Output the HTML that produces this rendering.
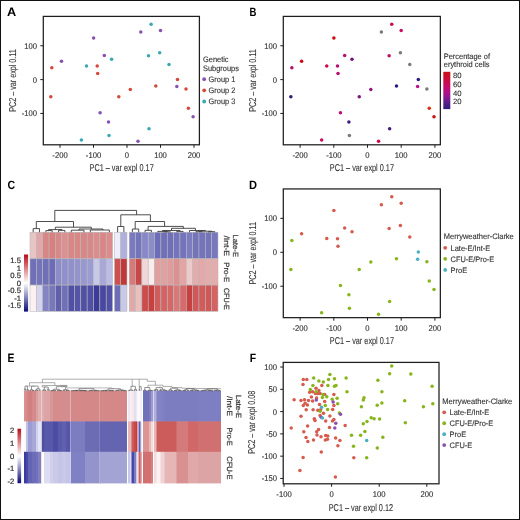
<!DOCTYPE html><html><head><meta charset="utf-8"><style>html,body{margin:0;padding:0;background:#fff;}body{width:520px;height:520px;position:relative;overflow:hidden;font-family:"Liberation Sans", sans-serif;}.frame{position:absolute;left:0;top:0;width:518px;height:518px;border:1px solid #111;}</style></head><body><svg width="520" height="520" viewBox="0 0 520 520" text-rendering="geometricPrecision" style="position:absolute;left:0;top:0;will-change:transform;font-family:&quot;Liberation Sans&quot;, sans-serif">
<defs>
<linearGradient id="gB" x1="0" y1="0" x2="0" y2="1"><stop offset="0" stop-color="#cc1010"/><stop offset="0.2" stop-color="#cc0c3c"/><stop offset="0.4" stop-color="#c40c6c"/><stop offset="0.55" stop-color="#b0108a"/><stop offset="0.7" stop-color="#861a8e"/><stop offset="0.85" stop-color="#502088"/><stop offset="1" stop-color="#2a2080"/></linearGradient>
<linearGradient id="gC" x1="0" y1="0" x2="0" y2="1"><stop offset="0" stop-color="#b80c18"/><stop offset="0.5" stop-color="#ffffff"/><stop offset="1" stop-color="#0a0a78"/></linearGradient>
</defs>
<rect x="0" y="0" width="520" height="520" fill="#fff"/>
<text font-size="12.2" fill="#000" text-anchor="start" font-weight="bold" textLength="9.20" lengthAdjust="spacingAndGlyphs" transform="translate(7.00 15.90)" >A</text>
<text font-size="12" fill="#000" text-anchor="start" font-weight="bold" textLength="6.90" lengthAdjust="spacingAndGlyphs" transform="translate(249.50 15.90)" >B</text>
<text font-size="12" fill="#000" text-anchor="start" font-weight="bold" textLength="7.60" lengthAdjust="spacingAndGlyphs" transform="translate(7.60 189.30)" >C</text>
<text font-size="12" fill="#000" text-anchor="start" font-weight="bold" textLength="8.00" lengthAdjust="spacingAndGlyphs" transform="translate(249.00 189.00)" >D</text>
<text font-size="12.2" fill="#000" text-anchor="start" font-weight="bold" textLength="6.90" lengthAdjust="spacingAndGlyphs" transform="translate(7.40 362.00)" >E</text>
<text font-size="12" fill="#000" text-anchor="start" font-weight="bold" textLength="6.40" lengthAdjust="spacingAndGlyphs" transform="translate(249.70 362.10)" >F</text>
<rect x="43.30" y="16.40" width="156.10" height="128.40" fill="none" stroke="#1e1e1e" stroke-width="1.25"/>
<line x1="60.00" y1="144.80" x2="60.00" y2="147.80" stroke="#1e1e1e" stroke-width="1.0"/>
<text font-size="8.3" fill="#333" text-anchor="middle" stroke="#333" stroke-width="0.15" transform="translate(60.00 158.10) scale(0.92 1)" >-200</text>
<line x1="93.50" y1="144.80" x2="93.50" y2="147.80" stroke="#1e1e1e" stroke-width="1.0"/>
<text font-size="8.3" fill="#333" text-anchor="middle" stroke="#333" stroke-width="0.15" transform="translate(93.50 158.10) scale(0.92 1)" >-100</text>
<line x1="127.00" y1="144.80" x2="127.00" y2="147.80" stroke="#1e1e1e" stroke-width="1.0"/>
<text font-size="8.3" fill="#333" text-anchor="middle" stroke="#333" stroke-width="0.15" transform="translate(127.00 158.10) scale(0.92 1)" >0</text>
<line x1="160.50" y1="144.80" x2="160.50" y2="147.80" stroke="#1e1e1e" stroke-width="1.0"/>
<text font-size="8.3" fill="#333" text-anchor="middle" stroke="#333" stroke-width="0.15" transform="translate(160.50 158.10) scale(0.92 1)" >100</text>
<line x1="194.00" y1="144.80" x2="194.00" y2="147.80" stroke="#1e1e1e" stroke-width="1.0"/>
<text font-size="8.3" fill="#333" text-anchor="middle" stroke="#333" stroke-width="0.15" transform="translate(194.00 158.10) scale(0.92 1)" >200</text>
<line x1="40.30" y1="45.75" x2="43.30" y2="45.75" stroke="#1e1e1e" stroke-width="1.0"/>
<text font-size="8.3" fill="#333" text-anchor="end" stroke="#333" stroke-width="0.15" transform="translate(37.00 48.65) scale(0.92 1)" >100</text>
<line x1="40.30" y1="79.60" x2="43.30" y2="79.60" stroke="#1e1e1e" stroke-width="1.0"/>
<text font-size="8.3" fill="#333" text-anchor="end" stroke="#333" stroke-width="0.15" transform="translate(37.00 82.50) scale(0.92 1)" >0</text>
<line x1="40.30" y1="113.45" x2="43.30" y2="113.45" stroke="#1e1e1e" stroke-width="1.0"/>
<text font-size="8.3" fill="#333" text-anchor="end" stroke="#333" stroke-width="0.15" transform="translate(37.00 116.35) scale(0.92 1)" >-100</text>
<circle cx="93.60" cy="37.90" r="1.75" fill="#8850b0"/>
<circle cx="104.30" cy="55.40" r="1.75" fill="#8850b0"/>
<circle cx="111.60" cy="59.20" r="1.75" fill="#3aa8b0"/>
<circle cx="61.50" cy="61.20" r="1.75" fill="#8850b0"/>
<circle cx="51.80" cy="67.80" r="1.75" fill="#d4483c"/>
<circle cx="86.50" cy="65.90" r="1.75" fill="#3aa8b0"/>
<circle cx="97.20" cy="66.00" r="1.75" fill="#d4483c"/>
<circle cx="97.70" cy="73.60" r="1.75" fill="#d4483c"/>
<circle cx="151.10" cy="24.20" r="1.75" fill="#3aa8b0"/>
<circle cx="140.80" cy="32.10" r="1.75" fill="#8850b0"/>
<circle cx="160.50" cy="30.60" r="1.75" fill="#8850b0"/>
<circle cx="159.70" cy="52.80" r="1.75" fill="#3aa8b0"/>
<circle cx="148.50" cy="55.80" r="1.75" fill="#3aa8b0"/>
<circle cx="169.00" cy="64.40" r="1.75" fill="#3aa8b0"/>
<circle cx="50.80" cy="96.70" r="1.75" fill="#d4483c"/>
<circle cx="118.80" cy="96.70" r="1.75" fill="#d4483c"/>
<circle cx="100.10" cy="112.70" r="1.75" fill="#8850b0"/>
<circle cx="108.50" cy="121.90" r="1.75" fill="#8850b0"/>
<circle cx="109.00" cy="135.50" r="1.75" fill="#3aa8b0"/>
<circle cx="81.40" cy="140.00" r="1.75" fill="#3aa8b0"/>
<circle cx="130.30" cy="89.40" r="1.75" fill="#d4483c"/>
<circle cx="155.80" cy="86.00" r="1.75" fill="#d4483c"/>
<circle cx="177.50" cy="79.40" r="1.75" fill="#d4483c"/>
<circle cx="176.80" cy="86.50" r="1.75" fill="#8850b0"/>
<circle cx="186.00" cy="89.10" r="1.75" fill="#d4483c"/>
<circle cx="188.40" cy="108.30" r="1.75" fill="#d4483c"/>
<circle cx="193.10" cy="116.70" r="1.75" fill="#8850b0"/>
<circle cx="149.00" cy="128.70" r="1.75" fill="#3aa8b0"/>
<circle cx="138.00" cy="141.30" r="1.75" fill="#8850b0"/>
<text font-size="9.9" fill="#333" text-anchor="start" textLength="64.20" lengthAdjust="spacingAndGlyphs" stroke="#333" stroke-width="0.1" transform="translate(89.50 170.90)" >PC1 – var expl 0.17</text>
<text font-size="9.9" fill="#333" text-anchor="start" textLength="62.60" lengthAdjust="spacingAndGlyphs" stroke="#333" stroke-width="0.1" transform="translate(16.30 111.80) rotate(-90)" >PC2 – var expl 0.11</text>
<text font-size="7.9" fill="#333" text-anchor="start" stroke="#333" stroke-width="0.12" transform="translate(203.00 61.80) scale(0.94 1)" >Genetic</text>
<text font-size="7.9" fill="#333" text-anchor="start" stroke="#333" stroke-width="0.12" transform="translate(203.00 70.90) scale(0.94 1)" >Subgroups</text>
<circle cx="204.20" cy="79.20" r="1.9" fill="#8850b0"/>
<text font-size="7.9" fill="#333" text-anchor="start" stroke="#333" stroke-width="0.12" transform="translate(208.60 82.00) scale(0.94 1)" >Group 1</text>
<circle cx="204.20" cy="90.35" r="1.9" fill="#d4483c"/>
<text font-size="7.9" fill="#333" text-anchor="start" stroke="#333" stroke-width="0.12" transform="translate(208.60 93.15) scale(0.94 1)" >Group 2</text>
<circle cx="204.20" cy="101.50" r="1.9" fill="#3aa8b0"/>
<text font-size="7.9" fill="#333" text-anchor="start" stroke="#333" stroke-width="0.12" transform="translate(208.60 104.30) scale(0.94 1)" >Group 3</text>
<rect x="283.30" y="16.40" width="157.04" height="128.40" fill="none" stroke="#1e1e1e" stroke-width="1.25"/>
<line x1="300.10" y1="144.80" x2="300.10" y2="147.80" stroke="#1e1e1e" stroke-width="1.0"/>
<text font-size="8.3" fill="#333" text-anchor="middle" stroke="#333" stroke-width="0.15" transform="translate(300.10 158.10) scale(0.92 1)" >-200</text>
<line x1="333.80" y1="144.80" x2="333.80" y2="147.80" stroke="#1e1e1e" stroke-width="1.0"/>
<text font-size="8.3" fill="#333" text-anchor="middle" stroke="#333" stroke-width="0.15" transform="translate(333.80 158.10) scale(0.92 1)" >-100</text>
<line x1="367.50" y1="144.80" x2="367.50" y2="147.80" stroke="#1e1e1e" stroke-width="1.0"/>
<text font-size="8.3" fill="#333" text-anchor="middle" stroke="#333" stroke-width="0.15" transform="translate(367.50 158.10) scale(0.92 1)" >0</text>
<line x1="401.20" y1="144.80" x2="401.20" y2="147.80" stroke="#1e1e1e" stroke-width="1.0"/>
<text font-size="8.3" fill="#333" text-anchor="middle" stroke="#333" stroke-width="0.15" transform="translate(401.20 158.10) scale(0.92 1)" >100</text>
<line x1="434.91" y1="144.80" x2="434.91" y2="147.80" stroke="#1e1e1e" stroke-width="1.0"/>
<text font-size="8.3" fill="#333" text-anchor="middle" stroke="#333" stroke-width="0.15" transform="translate(434.91 158.10) scale(0.92 1)" >200</text>
<line x1="280.30" y1="45.75" x2="283.30" y2="45.75" stroke="#1e1e1e" stroke-width="1.0"/>
<text font-size="8.3" fill="#333" text-anchor="end" stroke="#333" stroke-width="0.15" transform="translate(277.00 48.65) scale(0.92 1)" >100</text>
<line x1="280.30" y1="79.60" x2="283.30" y2="79.60" stroke="#1e1e1e" stroke-width="1.0"/>
<text font-size="8.3" fill="#333" text-anchor="end" stroke="#333" stroke-width="0.15" transform="translate(277.00 82.50) scale(0.92 1)" >0</text>
<line x1="280.30" y1="113.45" x2="283.30" y2="113.45" stroke="#1e1e1e" stroke-width="1.0"/>
<text font-size="8.3" fill="#333" text-anchor="end" stroke="#333" stroke-width="0.15" transform="translate(277.00 116.35) scale(0.92 1)" >-100</text>
<circle cx="333.90" cy="37.90" r="1.75" fill="#cc0a12"/>
<circle cx="344.67" cy="55.40" r="1.75" fill="#b81070"/>
<circle cx="352.01" cy="59.20" r="1.75" fill="#6a1478"/>
<circle cx="301.61" cy="61.20" r="1.75" fill="#cc0a14"/>
<circle cx="291.85" cy="67.80" r="1.75" fill="#b0106e"/>
<circle cx="326.76" cy="65.90" r="1.75" fill="#cc0a48"/>
<circle cx="337.53" cy="66.00" r="1.75" fill="#b80e70"/>
<circle cx="338.03" cy="73.60" r="1.75" fill="#b40e72"/>
<circle cx="391.75" cy="24.20" r="1.75" fill="#cc0a50"/>
<circle cx="381.39" cy="32.10" r="1.75" fill="#7a7a7a"/>
<circle cx="401.20" cy="30.60" r="1.75" fill="#c80c60"/>
<circle cx="400.40" cy="52.80" r="1.75" fill="#7a7a7a"/>
<circle cx="389.13" cy="55.80" r="1.75" fill="#c00c64"/>
<circle cx="409.76" cy="64.40" r="1.75" fill="#7a7a7a"/>
<circle cx="290.85" cy="96.70" r="1.75" fill="#2a1a7c"/>
<circle cx="359.25" cy="96.70" r="1.75" fill="#7a1480"/>
<circle cx="340.44" cy="112.70" r="1.75" fill="#c00c78"/>
<circle cx="348.89" cy="121.90" r="1.75" fill="#3a1a7c"/>
<circle cx="349.40" cy="135.50" r="1.75" fill="#7a7a7a"/>
<circle cx="321.63" cy="140.00" r="1.75" fill="#c80c5a"/>
<circle cx="370.82" cy="89.40" r="1.75" fill="#901488"/>
<circle cx="396.48" cy="86.00" r="1.75" fill="#2a1a7c"/>
<circle cx="418.31" cy="79.40" r="1.75" fill="#2a1a80"/>
<circle cx="417.60" cy="86.50" r="1.75" fill="#c0108a"/>
<circle cx="426.86" cy="89.10" r="1.75" fill="#7a7a7a"/>
<circle cx="429.27" cy="108.30" r="1.75" fill="#d83010"/>
<circle cx="434.00" cy="116.70" r="1.75" fill="#cc1010"/>
<circle cx="389.64" cy="128.70" r="1.75" fill="#4a1a80"/>
<circle cx="378.57" cy="141.30" r="1.75" fill="#cc0a50"/>
<text font-size="9.9" fill="#333" text-anchor="start" textLength="64.20" lengthAdjust="spacingAndGlyphs" stroke="#333" stroke-width="0.1" transform="translate(329.78 170.90)" >PC1 – var expl 0.17</text>
<text font-size="9.9" fill="#333" text-anchor="start" textLength="62.60" lengthAdjust="spacingAndGlyphs" stroke="#333" stroke-width="0.1" transform="translate(256.30 111.80) rotate(-90)" >PC2 – var expl 0.11</text>
<text font-size="7.9" fill="#333" text-anchor="start" stroke="#333" stroke-width="0.12" transform="translate(443.80 58.60) scale(0.94 1)" >Percentage of</text>
<text font-size="7.9" fill="#333" text-anchor="start" stroke="#333" stroke-width="0.12" transform="translate(443.80 67.40) scale(0.94 1)" >erythroid cells</text>
<rect x="443.3" y="71.8" width="7" height="37.3" fill="url(#gB)"/>
<text font-size="7.7" fill="#333" text-anchor="start" stroke="#333" stroke-width="0.12" transform="translate(452.90 78.30)" >80</text>
<text font-size="7.7" fill="#333" text-anchor="start" stroke="#333" stroke-width="0.12" transform="translate(452.90 86.92)" >60</text>
<text font-size="7.7" fill="#333" text-anchor="start" stroke="#333" stroke-width="0.12" transform="translate(452.90 95.54)" >40</text>
<text font-size="7.7" fill="#333" text-anchor="start" stroke="#333" stroke-width="0.12" transform="translate(452.90 104.16)" >20</text>
<rect x="283.30" y="188.94" width="157.04" height="128.72" fill="none" stroke="#1e1e1e" stroke-width="1.25"/>
<line x1="300.10" y1="317.66" x2="300.10" y2="320.66" stroke="#1e1e1e" stroke-width="1.0"/>
<text font-size="8.3" fill="#333" text-anchor="middle" stroke="#333" stroke-width="0.15" transform="translate(300.10 331.00) scale(0.92 1)" >-200</text>
<line x1="333.80" y1="317.66" x2="333.80" y2="320.66" stroke="#1e1e1e" stroke-width="1.0"/>
<text font-size="8.3" fill="#333" text-anchor="middle" stroke="#333" stroke-width="0.15" transform="translate(333.80 331.00) scale(0.92 1)" >-100</text>
<line x1="367.50" y1="317.66" x2="367.50" y2="320.66" stroke="#1e1e1e" stroke-width="1.0"/>
<text font-size="8.3" fill="#333" text-anchor="middle" stroke="#333" stroke-width="0.15" transform="translate(367.50 331.00) scale(0.92 1)" >0</text>
<line x1="401.20" y1="317.66" x2="401.20" y2="320.66" stroke="#1e1e1e" stroke-width="1.0"/>
<text font-size="8.3" fill="#333" text-anchor="middle" stroke="#333" stroke-width="0.15" transform="translate(401.20 331.00) scale(0.92 1)" >100</text>
<line x1="434.91" y1="317.66" x2="434.91" y2="320.66" stroke="#1e1e1e" stroke-width="1.0"/>
<text font-size="8.3" fill="#333" text-anchor="middle" stroke="#333" stroke-width="0.15" transform="translate(434.91 331.00) scale(0.92 1)" >200</text>
<line x1="280.30" y1="218.36" x2="283.30" y2="218.36" stroke="#1e1e1e" stroke-width="1.0"/>
<text font-size="8.3" fill="#333" text-anchor="end" stroke="#333" stroke-width="0.15" transform="translate(277.00 221.26) scale(0.92 1)" >100</text>
<line x1="280.30" y1="252.30" x2="283.30" y2="252.30" stroke="#1e1e1e" stroke-width="1.0"/>
<text font-size="8.3" fill="#333" text-anchor="end" stroke="#333" stroke-width="0.15" transform="translate(277.00 255.20) scale(0.92 1)" >0</text>
<line x1="280.30" y1="286.23" x2="283.30" y2="286.23" stroke="#1e1e1e" stroke-width="1.0"/>
<text font-size="8.3" fill="#333" text-anchor="end" stroke="#333" stroke-width="0.15" transform="translate(277.00 289.13) scale(0.92 1)" >-100</text>
<circle cx="333.90" cy="210.49" r="1.75" fill="#d65a4e"/>
<circle cx="344.67" cy="228.04" r="1.75" fill="#d65a4e"/>
<circle cx="352.01" cy="231.85" r="1.75" fill="#d65a4e"/>
<circle cx="301.61" cy="233.85" r="1.75" fill="#d65a4e"/>
<circle cx="291.85" cy="240.47" r="1.75" fill="#88b41c"/>
<circle cx="326.76" cy="238.56" r="1.75" fill="#d65a4e"/>
<circle cx="337.53" cy="238.66" r="1.75" fill="#d65a4e"/>
<circle cx="338.03" cy="246.28" r="1.75" fill="#d65a4e"/>
<circle cx="391.75" cy="196.76" r="1.75" fill="#d65a4e"/>
<circle cx="381.39" cy="204.68" r="1.75" fill="#d65a4e"/>
<circle cx="401.20" cy="203.18" r="1.75" fill="#d65a4e"/>
<circle cx="400.40" cy="225.43" r="1.75" fill="#d65a4e"/>
<circle cx="389.13" cy="228.44" r="1.75" fill="#d65a4e"/>
<circle cx="409.76" cy="237.06" r="1.75" fill="#d65a4e"/>
<circle cx="290.85" cy="269.44" r="1.75" fill="#88b41c"/>
<circle cx="359.25" cy="269.44" r="1.75" fill="#88b41c"/>
<circle cx="340.44" cy="285.48" r="1.75" fill="#88b41c"/>
<circle cx="348.89" cy="294.70" r="1.75" fill="#88b41c"/>
<circle cx="349.40" cy="308.34" r="1.75" fill="#88b41c"/>
<circle cx="321.63" cy="312.85" r="1.75" fill="#88b41c"/>
<circle cx="370.82" cy="262.12" r="1.75" fill="#88b41c"/>
<circle cx="396.48" cy="258.71" r="1.75" fill="#88b41c"/>
<circle cx="418.31" cy="252.10" r="1.75" fill="#48b0c0"/>
<circle cx="417.60" cy="259.22" r="1.75" fill="#48b0c0"/>
<circle cx="426.86" cy="261.82" r="1.75" fill="#88b41c"/>
<circle cx="429.27" cy="281.07" r="1.75" fill="#88b41c"/>
<circle cx="434.00" cy="289.49" r="1.75" fill="#88b41c"/>
<circle cx="389.64" cy="301.52" r="1.75" fill="#88b41c"/>
<circle cx="378.57" cy="314.15" r="1.75" fill="#88b41c"/>
<text font-size="9.9" fill="#333" text-anchor="start" textLength="64.20" lengthAdjust="spacingAndGlyphs" stroke="#333" stroke-width="0.1" transform="translate(329.78 343.83)" >PC1 – var expl 0.17</text>
<text font-size="9.9" fill="#333" text-anchor="start" textLength="62.60" lengthAdjust="spacingAndGlyphs" stroke="#333" stroke-width="0.1" transform="translate(256.30 284.58) rotate(-90)" >PC2 – var expl 0.11</text>
<text font-size="7.9" fill="#333" text-anchor="start" textLength="70.00" lengthAdjust="spacingAndGlyphs" stroke="#333" stroke-width="0.12" transform="translate(443.80 238.80)" >Merryweather-Clarke</text>
<circle cx="445.20" cy="247.80" r="1.9" fill="#d65a4e"/>
<text font-size="7.9" fill="#333" text-anchor="start" stroke="#333" stroke-width="0.12" transform="translate(450.60 250.60) scale(0.94 1)" >Late-E/Int-E</text>
<circle cx="445.20" cy="258.85" r="1.9" fill="#88b41c"/>
<text font-size="7.9" fill="#333" text-anchor="start" stroke="#333" stroke-width="0.12" transform="translate(450.60 261.65) scale(0.94 1)" >CFU-E/Pro-E</text>
<circle cx="445.20" cy="269.90" r="1.9" fill="#48b0c0"/>
<text font-size="7.9" fill="#333" text-anchor="start" stroke="#333" stroke-width="0.12" transform="translate(450.60 272.70) scale(0.94 1)" >ProE</text>
<rect x="30.00" y="232.20" width="6.35" height="26.60" fill="#e8c4c4" stroke="#b8b8b8" stroke-width="0.55"/>
<rect x="30.00" y="258.80" width="6.35" height="26.30" fill="#7070b8" stroke="#b8b8b8" stroke-width="0.55"/>
<rect x="30.00" y="285.10" width="6.35" height="26.20" fill="#fcf0f0" stroke="#b8b8b8" stroke-width="0.55"/>
<rect x="36.35" y="232.20" width="6.35" height="26.60" fill="#e0a8a8" stroke="#b8b8b8" stroke-width="0.55"/>
<rect x="36.35" y="258.80" width="6.35" height="26.30" fill="#7474bc" stroke="#b8b8b8" stroke-width="0.55"/>
<rect x="36.35" y="285.10" width="6.35" height="26.20" fill="#d4d4ee" stroke="#b8b8b8" stroke-width="0.55"/>
<rect x="42.70" y="232.20" width="6.35" height="26.60" fill="#d88686" stroke="#b8b8b8" stroke-width="0.55"/>
<rect x="42.70" y="258.80" width="6.35" height="26.30" fill="#7070b8" stroke="#b8b8b8" stroke-width="0.55"/>
<rect x="42.70" y="285.10" width="6.35" height="26.20" fill="#8484c4" stroke="#b8b8b8" stroke-width="0.55"/>
<rect x="49.05" y="232.20" width="6.35" height="26.60" fill="#d88080" stroke="#b8b8b8" stroke-width="0.55"/>
<rect x="49.05" y="258.80" width="6.35" height="26.30" fill="#6c6cb8" stroke="#b8b8b8" stroke-width="0.55"/>
<rect x="49.05" y="285.10" width="6.35" height="26.20" fill="#7878bc" stroke="#b8b8b8" stroke-width="0.55"/>
<rect x="55.40" y="232.20" width="6.35" height="26.60" fill="#d88888" stroke="#b8b8b8" stroke-width="0.55"/>
<rect x="55.40" y="258.80" width="6.35" height="26.30" fill="#8c8cc8" stroke="#b8b8b8" stroke-width="0.55"/>
<rect x="55.40" y="285.10" width="6.35" height="26.20" fill="#6060ac" stroke="#b8b8b8" stroke-width="0.55"/>
<rect x="61.75" y="232.20" width="6.35" height="26.60" fill="#dc9090" stroke="#b8b8b8" stroke-width="0.55"/>
<rect x="61.75" y="258.80" width="6.35" height="26.30" fill="#9090cc" stroke="#b8b8b8" stroke-width="0.55"/>
<rect x="61.75" y="285.10" width="6.35" height="26.20" fill="#7070b8" stroke="#b8b8b8" stroke-width="0.55"/>
<rect x="68.10" y="232.20" width="6.35" height="26.60" fill="#d88686" stroke="#b8b8b8" stroke-width="0.55"/>
<rect x="68.10" y="258.80" width="6.35" height="26.30" fill="#9090cc" stroke="#b8b8b8" stroke-width="0.55"/>
<rect x="68.10" y="285.10" width="6.35" height="26.20" fill="#5050a4" stroke="#b8b8b8" stroke-width="0.55"/>
<rect x="74.45" y="232.20" width="6.35" height="26.60" fill="#d88686" stroke="#b8b8b8" stroke-width="0.55"/>
<rect x="74.45" y="258.80" width="6.35" height="26.30" fill="#9494cc" stroke="#b8b8b8" stroke-width="0.55"/>
<rect x="74.45" y="285.10" width="6.35" height="26.20" fill="#5454a8" stroke="#b8b8b8" stroke-width="0.55"/>
<rect x="80.80" y="232.20" width="6.35" height="26.60" fill="#d88686" stroke="#b8b8b8" stroke-width="0.55"/>
<rect x="80.80" y="258.80" width="6.35" height="26.30" fill="#9898d0" stroke="#b8b8b8" stroke-width="0.55"/>
<rect x="80.80" y="285.10" width="6.35" height="26.20" fill="#5050a4" stroke="#b8b8b8" stroke-width="0.55"/>
<rect x="87.15" y="232.20" width="6.35" height="26.60" fill="#d88888" stroke="#b8b8b8" stroke-width="0.55"/>
<rect x="87.15" y="258.80" width="6.35" height="26.30" fill="#9c9cd2" stroke="#b8b8b8" stroke-width="0.55"/>
<rect x="87.15" y="285.10" width="6.35" height="26.20" fill="#5050a4" stroke="#b8b8b8" stroke-width="0.55"/>
<rect x="93.50" y="232.20" width="6.35" height="26.60" fill="#dc8c8c" stroke="#b8b8b8" stroke-width="0.55"/>
<rect x="93.50" y="258.80" width="6.35" height="26.30" fill="#c8c8e8" stroke="#b8b8b8" stroke-width="0.55"/>
<rect x="93.50" y="285.10" width="6.35" height="26.20" fill="#3c3c98" stroke="#b8b8b8" stroke-width="0.55"/>
<rect x="99.85" y="232.20" width="6.35" height="26.60" fill="#d88686" stroke="#b8b8b8" stroke-width="0.55"/>
<rect x="99.85" y="258.80" width="6.35" height="26.30" fill="#a8a8d8" stroke="#b8b8b8" stroke-width="0.55"/>
<rect x="99.85" y="285.10" width="6.35" height="26.20" fill="#4848a0" stroke="#b8b8b8" stroke-width="0.55"/>
<rect x="106.20" y="232.20" width="6.35" height="26.60" fill="#dc8c8c" stroke="#b8b8b8" stroke-width="0.55"/>
<rect x="106.20" y="258.80" width="6.35" height="26.30" fill="#bcbce4" stroke="#b8b8b8" stroke-width="0.55"/>
<rect x="106.20" y="285.10" width="6.35" height="26.20" fill="#5050a4" stroke="#b8b8b8" stroke-width="0.55"/>
<rect x="114.50" y="232.20" width="6.25" height="26.60" fill="#eeeef8" stroke="#b8b8b8" stroke-width="0.55"/>
<rect x="114.50" y="258.80" width="6.25" height="26.30" fill="#cc5050" stroke="#b8b8b8" stroke-width="0.55"/>
<rect x="114.50" y="285.10" width="6.25" height="26.20" fill="#6c6cb8" stroke="#b8b8b8" stroke-width="0.55"/>
<rect x="120.75" y="232.20" width="6.25" height="26.60" fill="#b0b0dc" stroke="#b8b8b8" stroke-width="0.55"/>
<rect x="120.75" y="258.80" width="6.25" height="26.30" fill="#c03838" stroke="#b8b8b8" stroke-width="0.55"/>
<rect x="120.75" y="285.10" width="6.25" height="26.20" fill="#c8c8e8" stroke="#b8b8b8" stroke-width="0.55"/>
<rect x="129.20" y="232.20" width="6.34" height="26.60" fill="#7a7ac0" stroke="#b8b8b8" stroke-width="0.55"/>
<rect x="129.20" y="258.80" width="6.34" height="26.30" fill="#d87878" stroke="#b8b8b8" stroke-width="0.55"/>
<rect x="129.20" y="285.10" width="6.34" height="26.20" fill="#e0a8a8" stroke="#b8b8b8" stroke-width="0.55"/>
<rect x="135.54" y="232.20" width="6.34" height="26.60" fill="#7474bc" stroke="#b8b8b8" stroke-width="0.55"/>
<rect x="135.54" y="258.80" width="6.34" height="26.30" fill="#c84848" stroke="#b8b8b8" stroke-width="0.55"/>
<rect x="135.54" y="285.10" width="6.34" height="26.20" fill="#e8c0c0" stroke="#b8b8b8" stroke-width="0.55"/>
<rect x="141.89" y="232.20" width="6.34" height="26.60" fill="#8888c8" stroke="#b8b8b8" stroke-width="0.55"/>
<rect x="141.89" y="258.80" width="6.34" height="26.30" fill="#f0d8d8" stroke="#b8b8b8" stroke-width="0.55"/>
<rect x="141.89" y="285.10" width="6.34" height="26.20" fill="#cc4c4c" stroke="#b8b8b8" stroke-width="0.55"/>
<rect x="148.23" y="232.20" width="6.34" height="26.60" fill="#8c8cc8" stroke="#b8b8b8" stroke-width="0.55"/>
<rect x="148.23" y="258.80" width="6.34" height="26.30" fill="#f8ecec" stroke="#b8b8b8" stroke-width="0.55"/>
<rect x="148.23" y="285.10" width="6.34" height="26.20" fill="#c84040" stroke="#b8b8b8" stroke-width="0.55"/>
<rect x="154.57" y="232.20" width="6.34" height="26.60" fill="#6c6cb8" stroke="#b8b8b8" stroke-width="0.55"/>
<rect x="154.57" y="258.80" width="6.34" height="26.30" fill="#e0a0a0" stroke="#b8b8b8" stroke-width="0.55"/>
<rect x="154.57" y="285.10" width="6.34" height="26.20" fill="#d05c5c" stroke="#b8b8b8" stroke-width="0.55"/>
<rect x="160.91" y="232.20" width="6.34" height="26.60" fill="#7070ba" stroke="#b8b8b8" stroke-width="0.55"/>
<rect x="160.91" y="258.80" width="6.34" height="26.30" fill="#e0a0a0" stroke="#b8b8b8" stroke-width="0.55"/>
<rect x="160.91" y="285.10" width="6.34" height="26.20" fill="#d46464" stroke="#b8b8b8" stroke-width="0.55"/>
<rect x="167.26" y="232.20" width="6.34" height="26.60" fill="#7070ba" stroke="#b8b8b8" stroke-width="0.55"/>
<rect x="167.26" y="258.80" width="6.34" height="26.30" fill="#e09c9c" stroke="#b8b8b8" stroke-width="0.55"/>
<rect x="167.26" y="285.10" width="6.34" height="26.20" fill="#d46868" stroke="#b8b8b8" stroke-width="0.55"/>
<rect x="173.60" y="232.20" width="6.34" height="26.60" fill="#7474bc" stroke="#b8b8b8" stroke-width="0.55"/>
<rect x="173.60" y="258.80" width="6.34" height="26.30" fill="#dc9090" stroke="#b8b8b8" stroke-width="0.55"/>
<rect x="173.60" y="285.10" width="6.34" height="26.20" fill="#d87878" stroke="#b8b8b8" stroke-width="0.55"/>
<rect x="179.94" y="232.20" width="6.34" height="26.60" fill="#7474bc" stroke="#b8b8b8" stroke-width="0.55"/>
<rect x="179.94" y="258.80" width="6.34" height="26.30" fill="#e4a4a4" stroke="#b8b8b8" stroke-width="0.55"/>
<rect x="179.94" y="285.10" width="6.34" height="26.20" fill="#d46c6c" stroke="#b8b8b8" stroke-width="0.55"/>
<rect x="186.29" y="232.20" width="6.34" height="26.60" fill="#7c7cc0" stroke="#b8b8b8" stroke-width="0.55"/>
<rect x="186.29" y="258.80" width="6.34" height="26.30" fill="#eccaca" stroke="#b8b8b8" stroke-width="0.55"/>
<rect x="186.29" y="285.10" width="6.34" height="26.20" fill="#c84040" stroke="#b8b8b8" stroke-width="0.55"/>
<rect x="192.63" y="232.20" width="6.34" height="26.60" fill="#7474bc" stroke="#b8b8b8" stroke-width="0.55"/>
<rect x="192.63" y="258.80" width="6.34" height="26.30" fill="#e4acac" stroke="#b8b8b8" stroke-width="0.55"/>
<rect x="192.63" y="285.10" width="6.34" height="26.20" fill="#d05858" stroke="#b8b8b8" stroke-width="0.55"/>
<rect x="198.97" y="232.20" width="6.34" height="26.60" fill="#7474bc" stroke="#b8b8b8" stroke-width="0.55"/>
<rect x="198.97" y="258.80" width="6.34" height="26.30" fill="#e4a8a8" stroke="#b8b8b8" stroke-width="0.55"/>
<rect x="198.97" y="285.10" width="6.34" height="26.20" fill="#d05c5c" stroke="#b8b8b8" stroke-width="0.55"/>
<rect x="205.32" y="232.20" width="6.34" height="26.60" fill="#7474bc" stroke="#b8b8b8" stroke-width="0.55"/>
<rect x="205.32" y="258.80" width="6.34" height="26.30" fill="#e4acac" stroke="#b8b8b8" stroke-width="0.55"/>
<rect x="205.32" y="285.10" width="6.34" height="26.20" fill="#d05858" stroke="#b8b8b8" stroke-width="0.55"/>
<rect x="211.66" y="232.20" width="6.34" height="26.60" fill="#7878be" stroke="#b8b8b8" stroke-width="0.55"/>
<rect x="211.66" y="258.80" width="6.34" height="26.30" fill="#e4acac" stroke="#b8b8b8" stroke-width="0.55"/>
<rect x="211.66" y="285.10" width="6.34" height="26.20" fill="#d46464" stroke="#b8b8b8" stroke-width="0.55"/>
<path d="M54.80 221.50 L54.80 210.40 L136.60 210.40 L136.60 214.80" fill="none" stroke="#3a3a3a" stroke-width="0.9"/>
<path d="M36.30 228.60 L36.30 221.50 L73.50 221.50 L73.50 227.20" fill="none" stroke="#3a3a3a" stroke-width="0.9"/>
<path d="M33.17 232.20 L33.17 228.60 L39.52 228.60 L39.52 232.20" fill="none" stroke="#3a3a3a" stroke-width="0.9"/>
<path d="M55.30 229.60 L55.30 227.20 L91.30 227.20 L91.30 229.00" fill="none" stroke="#3a3a3a" stroke-width="0.9"/>
<path d="M48.50 230.60 L48.50 229.60 L62.00 229.60 L62.00 230.40" fill="none" stroke="#3a3a3a" stroke-width="0.9"/>
<path d="M45.88 232.20 L45.88 230.60 L52.22 230.60 L52.22 232.20" fill="none" stroke="#3a3a3a" stroke-width="0.9"/>
<path d="M58.57 232.20 L58.57 230.40 L64.92 230.40 L64.92 232.20" fill="none" stroke="#3a3a3a" stroke-width="0.9"/>
<path d="M79.00 230.20 L79.00 229.00 L103.00 229.00 L103.00 230.00" fill="none" stroke="#3a3a3a" stroke-width="0.9"/>
<path d="M71.27 232.20 L71.27 230.20 L83.97 230.20 L83.97 232.20" fill="none" stroke="#3a3a3a" stroke-width="0.9"/>
<path d="M90.33 232.20 L90.33 230.00 L109.37 230.00 L109.37 232.20" fill="none" stroke="#3a3a3a" stroke-width="0.9"/>
<path d="M120.80 226.50 L120.80 214.80 L150.40 214.80 L150.40 221.50" fill="none" stroke="#3a3a3a" stroke-width="0.9"/>
<path d="M117.62 232.20 L117.62 226.50 L123.88 226.50 L123.88 232.20" fill="none" stroke="#3a3a3a" stroke-width="0.9"/>
<path d="M135.20 229.00 L135.20 221.50 L164.60 221.50 L164.60 226.40" fill="none" stroke="#3a3a3a" stroke-width="0.9"/>
<path d="M132.37 232.20 L132.37 229.00 L138.71 229.00 L138.71 232.20" fill="none" stroke="#3a3a3a" stroke-width="0.9"/>
<path d="M148.10 230.30 L148.10 226.40 L183.30 226.40 L183.30 228.30" fill="none" stroke="#3a3a3a" stroke-width="0.9"/>
<path d="M145.06 232.20 L145.06 230.30 L151.40 230.30 L151.40 232.20" fill="none" stroke="#3a3a3a" stroke-width="0.9"/>
<path d="M171.50 230.50 L171.50 228.30 L195.40 228.30 L195.40 230.50" fill="none" stroke="#3a3a3a" stroke-width="0.9"/>
<path d="M162.50 231.40 L162.50 230.50 L180.00 230.50 L180.00 231.40" fill="none" stroke="#3a3a3a" stroke-width="0.9"/>
<path d="M157.74 232.20 L157.74 231.40 L167.30 231.40 L167.30 231.80" fill="none" stroke="#3a3a3a" stroke-width="0.9"/>
<path d="M164.09 232.20 L164.09 231.80 L170.43 231.80 L170.43 232.20" fill="none" stroke="#3a3a3a" stroke-width="0.9"/>
<path d="M176.77 232.20 L176.77 231.40 L183.12 231.40 L183.12 232.20" fill="none" stroke="#3a3a3a" stroke-width="0.9"/>
<path d="M189.46 232.20 L189.46 230.50 L205.40 230.50 L205.40 231.20" fill="none" stroke="#3a3a3a" stroke-width="0.9"/>
<path d="M199.00 231.70 L199.00 231.20 L211.80 231.20 L211.80 231.70" fill="none" stroke="#3a3a3a" stroke-width="0.9"/>
<path d="M195.80 232.20 L195.80 231.70 L202.14 231.70 L202.14 232.20" fill="none" stroke="#3a3a3a" stroke-width="0.9"/>
<path d="M208.49 232.20 L208.49 231.70 L214.83 231.70 L214.83 232.20" fill="none" stroke="#3a3a3a" stroke-width="0.9"/>
<rect x="24.0" y="254.5" width="4.1" height="57.1" fill="url(#gC)"/>
<text font-size="7.7" fill="#333" text-anchor="end" stroke="#333" stroke-width="0.22" transform="translate(21.00 263.05)" >1.5</text>
<text font-size="7.7" fill="#333" text-anchor="end" stroke="#333" stroke-width="0.22" transform="translate(21.00 270.60)" >1</text>
<text font-size="7.7" fill="#333" text-anchor="end" stroke="#333" stroke-width="0.22" transform="translate(21.00 278.15)" >0.5</text>
<text font-size="7.7" fill="#333" text-anchor="end" stroke="#333" stroke-width="0.22" transform="translate(21.00 285.70)" >0</text>
<text font-size="7.7" fill="#333" text-anchor="end" stroke="#333" stroke-width="0.22" transform="translate(21.00 293.25)" >-0.5</text>
<text font-size="7.7" fill="#333" text-anchor="end" stroke="#333" stroke-width="0.22" transform="translate(21.00 300.80)" >-1</text>
<text font-size="7.7" fill="#333" text-anchor="end" stroke="#333" stroke-width="0.22" transform="translate(21.00 308.35)" >-1.5</text>
<text font-size="7.6" fill="#333" text-anchor="start" textLength="22.50" lengthAdjust="spacingAndGlyphs" stroke="#333" stroke-width="0.2" transform="translate(233.00 234.50) rotate(90)" >Late-E</text>
<text font-size="7.6" fill="#333" text-anchor="start" textLength="20.70" lengthAdjust="spacingAndGlyphs" stroke="#333" stroke-width="0.2" transform="translate(224.40 235.40) rotate(90)" >/Int-E</text>
<text font-size="7.6" fill="#333" text-anchor="start" textLength="19.90" lengthAdjust="spacingAndGlyphs" stroke="#333" stroke-width="0.2" transform="translate(224.40 262.20) rotate(90)" >Pro-E</text>
<text font-size="7.6" fill="#333" text-anchor="start" textLength="21.70" lengthAdjust="spacingAndGlyphs" stroke="#333" stroke-width="0.2" transform="translate(224.40 288.10) rotate(90)" >CFU-E</text>
<rect x="24.00" y="390.70" width="2.60" height="31.20" fill="#d89090"/>
<rect x="24.00" y="421.40" width="2.60" height="30.90" fill="#fdf8f8"/>
<rect x="24.00" y="451.80" width="2.60" height="31.60" fill="#3c3ca0"/>
<rect x="26.00" y="390.70" width="2.60" height="31.20" fill="#d48888"/>
<rect x="26.00" y="421.40" width="2.60" height="30.90" fill="#c0c0e4"/>
<rect x="26.00" y="451.80" width="2.60" height="31.60" fill="#4848a8"/>
<rect x="28.00" y="390.70" width="4.60" height="31.20" fill="#d08080"/>
<rect x="28.00" y="421.40" width="4.60" height="30.90" fill="#9c9cd4"/>
<rect x="28.00" y="451.80" width="4.60" height="31.60" fill="#6464b4"/>
<rect x="32.00" y="390.70" width="4.60" height="31.20" fill="#d48a8a"/>
<rect x="32.00" y="421.40" width="4.60" height="30.90" fill="#a8a8d8"/>
<rect x="32.00" y="451.80" width="4.60" height="31.60" fill="#6c6cb8"/>
<rect x="36.00" y="390.70" width="2.60" height="31.20" fill="#dca0a0"/>
<rect x="36.00" y="421.40" width="2.60" height="30.90" fill="#d0d0ec"/>
<rect x="36.00" y="451.80" width="2.60" height="31.60" fill="#7070bc"/>
<rect x="38.00" y="390.70" width="3.60" height="31.20" fill="#e0b0b0"/>
<rect x="38.00" y="421.40" width="3.60" height="30.90" fill="#e4e4f4"/>
<rect x="38.00" y="451.80" width="3.60" height="31.60" fill="#8080c0"/>
<rect x="41.00" y="390.70" width="1.50" height="31.20" fill="#ecd0d0"/>
<rect x="41.00" y="421.40" width="1.50" height="30.90" fill="#dcdcf0"/>
<rect x="41.00" y="451.80" width="1.50" height="31.60" fill="#f4dcdc"/>
<rect x="41.90" y="390.70" width="2.70" height="31.20" fill="#e0acac"/>
<rect x="41.90" y="421.40" width="2.70" height="30.90" fill="#4e4ea4"/>
<rect x="41.90" y="451.80" width="2.70" height="31.60" fill="#ffffff"/>
<rect x="44.00" y="390.70" width="6.60" height="31.20" fill="#dca4a4"/>
<rect x="44.00" y="421.40" width="6.60" height="30.90" fill="#5858aa"/>
<rect x="44.00" y="451.80" width="6.60" height="31.60" fill="#dcdcf2"/>
<rect x="50.00" y="390.70" width="3.60" height="31.20" fill="#d89898"/>
<rect x="50.00" y="421.40" width="3.60" height="30.90" fill="#5858aa"/>
<rect x="50.00" y="451.80" width="3.60" height="31.60" fill="#d0d0ec"/>
<rect x="53.00" y="390.70" width="5.60" height="31.20" fill="#d48c8c"/>
<rect x="53.00" y="421.40" width="5.60" height="30.90" fill="#4c4ca4"/>
<rect x="53.00" y="451.80" width="5.60" height="31.60" fill="#cacae8"/>
<rect x="58.00" y="390.70" width="4.60" height="31.20" fill="#d48c8c"/>
<rect x="58.00" y="421.40" width="4.60" height="30.90" fill="#5a5aaa"/>
<rect x="58.00" y="451.80" width="4.60" height="31.60" fill="#c4c4e6"/>
<rect x="62.00" y="390.70" width="4.60" height="31.20" fill="#d48c8c"/>
<rect x="62.00" y="421.40" width="4.60" height="30.90" fill="#6060ae"/>
<rect x="62.00" y="451.80" width="4.60" height="31.60" fill="#c8c8e8"/>
<rect x="66.00" y="390.70" width="4.60" height="31.20" fill="#d48c8c"/>
<rect x="66.00" y="421.40" width="4.60" height="30.90" fill="#5656a8"/>
<rect x="66.00" y="451.80" width="4.60" height="31.60" fill="#c4c4e6"/>
<rect x="70.00" y="390.70" width="1.60" height="31.20" fill="#e0b4b4"/>
<rect x="70.00" y="421.40" width="1.60" height="30.90" fill="#a0a0d4"/>
<rect x="70.00" y="451.80" width="1.60" height="31.60" fill="#d0d0ec"/>
<rect x="71.00" y="390.70" width="14.60" height="31.20" fill="#d48888"/>
<rect x="71.00" y="421.40" width="14.60" height="30.90" fill="#7c7cc0"/>
<rect x="71.00" y="451.80" width="14.60" height="31.60" fill="#8080c4"/>
<rect x="85.00" y="390.70" width="14.60" height="31.20" fill="#d48888"/>
<rect x="85.00" y="421.40" width="14.60" height="30.90" fill="#6c6cb4"/>
<rect x="85.00" y="451.80" width="14.60" height="31.60" fill="#9494cc"/>
<rect x="99.00" y="390.70" width="1.60" height="31.20" fill="#dca0a0"/>
<rect x="99.00" y="421.40" width="1.60" height="30.90" fill="#8080c0"/>
<rect x="99.00" y="451.80" width="1.60" height="31.60" fill="#b0b0dc"/>
<rect x="100.00" y="390.70" width="27.60" height="31.20" fill="#d48888"/>
<rect x="100.00" y="421.40" width="27.60" height="30.90" fill="#6464b0"/>
<rect x="100.00" y="451.80" width="27.60" height="31.60" fill="#a4a4d4"/>
<rect x="127.00" y="390.70" width="1.60" height="31.20" fill="#ffffff"/>
<rect x="127.00" y="421.40" width="1.60" height="30.90" fill="#ffffff"/>
<rect x="127.00" y="451.80" width="1.60" height="31.60" fill="#ffffff"/>
<rect x="128.00" y="390.70" width="2.60" height="31.20" fill="#e8e8f6"/>
<rect x="128.00" y="421.40" width="2.60" height="30.90" fill="#e8b8b8"/>
<rect x="128.00" y="451.80" width="2.60" height="31.60" fill="#c8c8e8"/>
<rect x="130.00" y="390.70" width="2.10" height="31.20" fill="#fcf0f0"/>
<rect x="130.00" y="421.40" width="2.10" height="30.90" fill="#e8b8b8"/>
<rect x="130.00" y="451.80" width="2.10" height="31.60" fill="#dcdcf0"/>
<rect x="131.50" y="390.70" width="3.10" height="31.20" fill="#f8e8e8"/>
<rect x="131.50" y="421.40" width="3.10" height="30.90" fill="#cc5c5c"/>
<rect x="131.50" y="451.80" width="3.10" height="31.60" fill="#4848a8"/>
<rect x="134.00" y="390.70" width="2.60" height="31.20" fill="#e0e0f2"/>
<rect x="134.00" y="421.40" width="2.60" height="30.90" fill="#c84848"/>
<rect x="134.00" y="451.80" width="2.60" height="31.60" fill="#7c7cc0"/>
<rect x="136.00" y="390.70" width="2.10" height="31.20" fill="#ececf8"/>
<rect x="136.00" y="421.40" width="2.10" height="30.90" fill="#c04040"/>
<rect x="136.00" y="451.80" width="2.10" height="31.60" fill="#c8c8e8"/>
<rect x="137.50" y="390.70" width="1.60" height="31.20" fill="#ffffff"/>
<rect x="137.50" y="421.40" width="1.60" height="30.90" fill="#ffffff"/>
<rect x="137.50" y="451.80" width="1.60" height="31.60" fill="#ffffff"/>
<rect x="138.50" y="390.70" width="2.60" height="31.20" fill="#fdf6f6"/>
<rect x="138.50" y="421.40" width="2.60" height="30.90" fill="#5c5cb0"/>
<rect x="138.50" y="451.80" width="2.60" height="31.60" fill="#d06060"/>
<rect x="140.50" y="390.70" width="2.10" height="31.20" fill="#f0f0f8"/>
<rect x="140.50" y="421.40" width="2.10" height="30.90" fill="#e8e8f4"/>
<rect x="140.50" y="451.80" width="2.10" height="31.60" fill="#e0a8a8"/>
<rect x="142.00" y="390.70" width="1.60" height="31.20" fill="#ffffff"/>
<rect x="142.00" y="421.40" width="1.60" height="30.90" fill="#ffffff"/>
<rect x="142.00" y="451.80" width="1.60" height="31.60" fill="#ffffff"/>
<rect x="143.00" y="390.70" width="6.60" height="31.20" fill="#7070b8"/>
<rect x="143.00" y="421.40" width="6.60" height="30.90" fill="#dc9494"/>
<rect x="143.00" y="451.80" width="6.60" height="31.60" fill="#d07070"/>
<rect x="149.00" y="390.70" width="2.60" height="31.20" fill="#7c7cc0"/>
<rect x="149.00" y="421.40" width="2.60" height="30.90" fill="#e8b8b8"/>
<rect x="149.00" y="451.80" width="2.60" height="31.60" fill="#d07070"/>
<rect x="151.00" y="390.70" width="2.60" height="31.20" fill="#9c9cd2"/>
<rect x="151.00" y="421.40" width="2.60" height="30.90" fill="#f4dcdc"/>
<rect x="151.00" y="451.80" width="2.60" height="31.60" fill="#d88080"/>
<rect x="153.00" y="390.70" width="1.60" height="31.20" fill="#d8d8ee"/>
<rect x="153.00" y="421.40" width="1.60" height="30.90" fill="#fcf0f0"/>
<rect x="153.00" y="451.80" width="1.60" height="31.60" fill="#ffffff"/>
<rect x="154.00" y="390.70" width="3.10" height="31.20" fill="#b0b0dc"/>
<rect x="154.00" y="421.40" width="3.10" height="30.90" fill="#e8b8b8"/>
<rect x="154.00" y="451.80" width="3.10" height="31.60" fill="#f4dcdc"/>
<rect x="156.50" y="390.70" width="4.60" height="31.20" fill="#8484c4"/>
<rect x="156.50" y="421.40" width="4.60" height="30.90" fill="#cc5c5c"/>
<rect x="156.50" y="451.80" width="4.60" height="31.60" fill="#fcf2f2"/>
<rect x="160.50" y="390.70" width="4.60" height="31.20" fill="#8080c4"/>
<rect x="160.50" y="421.40" width="4.60" height="30.90" fill="#cc5c5c"/>
<rect x="160.50" y="451.80" width="4.60" height="31.60" fill="#f0d4d4"/>
<rect x="164.50" y="390.70" width="12.60" height="31.20" fill="#7c7cc0"/>
<rect x="164.50" y="421.40" width="12.60" height="30.90" fill="#cc5c5c"/>
<rect x="164.50" y="451.80" width="12.60" height="31.60" fill="#e6b6b6"/>
<rect x="176.50" y="390.70" width="12.10" height="31.20" fill="#7c7cc0"/>
<rect x="176.50" y="421.40" width="12.10" height="30.90" fill="#d47a7a"/>
<rect x="176.50" y="451.80" width="12.10" height="31.60" fill="#d89090"/>
<rect x="188.00" y="390.70" width="10.60" height="31.20" fill="#7c7cc0"/>
<rect x="188.00" y="421.40" width="10.60" height="30.90" fill="#d06868"/>
<rect x="188.00" y="451.80" width="10.60" height="31.60" fill="#e0a8a8"/>
<rect x="198.00" y="390.70" width="23.00" height="31.20" fill="#7e7ec2"/>
<rect x="198.00" y="421.40" width="23.00" height="30.90" fill="#d07070"/>
<rect x="198.00" y="451.80" width="23.00" height="31.60" fill="#dca4a4"/>
<path d="M42.40 382.70 L42.40 379.20 L132.20 379.20 L132.20 386.30" fill="none" stroke="#8a8a8a" stroke-width="0.7"/>
<path d="M132.20 379.20 L147.30 379.20" fill="none" stroke="#8a8a8a" stroke-width="0.7"/>
<path d="M139.20 379.20 L139.20 386.60" fill="none" stroke="#8a8a8a" stroke-width="0.7"/>
<path d="M29.50 386.10 L29.50 382.70 L54.90 382.70 L54.90 385.50" fill="none" stroke="#8a8a8a" stroke-width="0.7"/>
<path d="M24.42 390.16 L24.42 390.70" fill="none" stroke="#505050" stroke-width="0.6"/>
<path d="M25.53 390.07 L25.53 390.70" fill="none" stroke="#505050" stroke-width="0.6"/>
<path d="M24.42 390.16 L24.42 388.84 L25.53 388.84 L25.53 390.07" fill="none" stroke="#505050" stroke-width="0.6"/>
<path d="M26.74 390.35 L26.74 390.70" fill="none" stroke="#505050" stroke-width="0.6"/>
<path d="M27.67 390.48 L27.67 390.70" fill="none" stroke="#505050" stroke-width="0.6"/>
<path d="M28.55 390.48 L28.55 390.70" fill="none" stroke="#505050" stroke-width="0.6"/>
<path d="M27.67 390.48 L27.67 390.19 L28.55 390.19 L28.55 390.48" fill="none" stroke="#505050" stroke-width="0.6"/>
<path d="M26.74 390.35 L26.74 389.53 L28.11 389.53 L28.11 390.19" fill="none" stroke="#505050" stroke-width="0.6"/>
<path d="M24.97 388.84 L24.97 386.11 L27.43 386.11 L27.43 389.53" fill="none" stroke="#505050" stroke-width="0.6"/>
<path d="M29.50 386.10 L26.20 386.10" fill="none" stroke="#8a8a8a" stroke-width="0.6"/>
<path d="M29.62 390.62 L29.62 390.70" fill="none" stroke="#505050" stroke-width="0.6"/>
<path d="M30.82 390.66 L30.82 390.70" fill="none" stroke="#505050" stroke-width="0.6"/>
<path d="M29.62 390.62 L29.62 390.46 L30.82 390.46 L30.82 390.66" fill="none" stroke="#505050" stroke-width="0.6"/>
<path d="M32.00 390.67 L32.00 390.70" fill="none" stroke="#505050" stroke-width="0.6"/>
<path d="M33.02 390.68 L33.02 390.70" fill="none" stroke="#505050" stroke-width="0.6"/>
<path d="M34.08 390.68 L34.08 390.70" fill="none" stroke="#505050" stroke-width="0.6"/>
<path d="M33.02 390.68 L33.02 390.64 L34.08 390.64 L34.08 390.68" fill="none" stroke="#505050" stroke-width="0.6"/>
<path d="M32.00 390.67 L32.00 390.55 L33.55 390.55 L33.55 390.64" fill="none" stroke="#505050" stroke-width="0.6"/>
<path d="M30.22 390.46 L30.22 389.77 L32.77 389.77 L32.77 390.55" fill="none" stroke="#505050" stroke-width="0.6"/>
<path d="M35.10 390.59 L35.10 390.70" fill="none" stroke="#505050" stroke-width="0.6"/>
<path d="M36.11 390.60 L36.11 390.70" fill="none" stroke="#505050" stroke-width="0.6"/>
<path d="M35.10 390.59 L35.10 390.45 L36.11 390.45 L36.11 390.60" fill="none" stroke="#505050" stroke-width="0.6"/>
<path d="M37.22 390.63 L37.22 390.70" fill="none" stroke="#505050" stroke-width="0.6"/>
<path d="M38.08 390.62 L38.08 390.70" fill="none" stroke="#505050" stroke-width="0.6"/>
<path d="M37.22 390.63 L37.22 390.49 L38.08 390.49 L38.08 390.62" fill="none" stroke="#505050" stroke-width="0.6"/>
<path d="M35.61 390.45 L35.61 389.95 L37.65 389.95 L37.65 390.49" fill="none" stroke="#505050" stroke-width="0.6"/>
<path d="M39.13 390.54 L39.13 390.70" fill="none" stroke="#505050" stroke-width="0.6"/>
<path d="M40.40 390.51 L40.40 390.70" fill="none" stroke="#505050" stroke-width="0.6"/>
<path d="M39.13 390.54 L39.13 390.18 L40.40 390.18 L40.40 390.51" fill="none" stroke="#505050" stroke-width="0.6"/>
<path d="M36.63 389.95 L36.63 388.80 L39.76 388.80 L39.76 390.18" fill="none" stroke="#505050" stroke-width="0.6"/>
<path d="M31.50 389.77 L31.50 386.11 L38.20 386.11 L38.20 388.80" fill="none" stroke="#505050" stroke-width="0.6"/>
<path d="M29.50 386.10 L34.85 386.10" fill="none" stroke="#8a8a8a" stroke-width="0.6"/>
<path d="M42.20 387.00 L42.20 385.50 L67.00 385.50 L67.00 386.60" fill="none" stroke="#8a8a8a" stroke-width="0.7"/>
<path d="M42.52 390.61 L42.52 390.70" fill="none" stroke="#505050" stroke-width="0.6"/>
<path d="M43.78 390.66 L43.78 390.70" fill="none" stroke="#505050" stroke-width="0.6"/>
<path d="M42.52 390.61 L42.52 390.44 L43.78 390.44 L43.78 390.66" fill="none" stroke="#505050" stroke-width="0.6"/>
<path d="M44.76 390.65 L44.76 390.70" fill="none" stroke="#505050" stroke-width="0.6"/>
<path d="M45.92 390.66 L45.92 390.70" fill="none" stroke="#505050" stroke-width="0.6"/>
<path d="M44.76 390.65 L44.76 390.53 L45.92 390.53 L45.92 390.66" fill="none" stroke="#505050" stroke-width="0.6"/>
<path d="M43.15 390.44 L43.15 389.81 L45.34 389.81 L45.34 390.53" fill="none" stroke="#505050" stroke-width="0.6"/>
<path d="M47.29 390.28 L47.29 390.70" fill="none" stroke="#505050" stroke-width="0.6"/>
<path d="M48.52 390.57 L48.52 390.70" fill="none" stroke="#505050" stroke-width="0.6"/>
<path d="M49.54 390.53 L49.54 390.70" fill="none" stroke="#505050" stroke-width="0.6"/>
<path d="M48.52 390.57 L48.52 390.09 L49.54 390.09 L49.54 390.53" fill="none" stroke="#505050" stroke-width="0.6"/>
<path d="M47.29 390.28 L47.29 389.31 L49.03 389.31 L49.03 390.09" fill="none" stroke="#505050" stroke-width="0.6"/>
<path d="M44.24 389.81 L44.24 387.01 L48.16 387.01 L48.16 389.31" fill="none" stroke="#505050" stroke-width="0.6"/>
<path d="M42.20 387.00 L46.20 387.00" fill="none" stroke="#8a8a8a" stroke-width="0.6"/>
<path d="M50.58 390.70 L50.58 390.70" fill="none" stroke="#505050" stroke-width="0.6"/>
<path d="M51.65 390.69 L51.65 390.70" fill="none" stroke="#505050" stroke-width="0.6"/>
<path d="M50.58 390.70 L50.58 390.67 L51.65 390.67 L51.65 390.69" fill="none" stroke="#505050" stroke-width="0.6"/>
<path d="M52.52 390.69 L52.52 390.70" fill="none" stroke="#505050" stroke-width="0.6"/>
<path d="M53.40 390.70 L53.40 390.70" fill="none" stroke="#505050" stroke-width="0.6"/>
<path d="M52.52 390.69 L52.52 390.68 L53.40 390.68 L53.40 390.70" fill="none" stroke="#505050" stroke-width="0.6"/>
<path d="M51.12 390.67 L51.12 390.63 L52.96 390.63 L52.96 390.68" fill="none" stroke="#505050" stroke-width="0.6"/>
<path d="M54.36 390.66 L54.36 390.70" fill="none" stroke="#505050" stroke-width="0.6"/>
<path d="M55.14 390.68 L55.14 390.70" fill="none" stroke="#505050" stroke-width="0.6"/>
<path d="M55.96 390.69 L55.96 390.70" fill="none" stroke="#505050" stroke-width="0.6"/>
<path d="M55.14 390.68 L55.14 390.65 L55.96 390.65 L55.96 390.69" fill="none" stroke="#505050" stroke-width="0.6"/>
<path d="M54.36 390.66 L54.36 390.58 L55.55 390.58 L55.55 390.65" fill="none" stroke="#505050" stroke-width="0.6"/>
<path d="M52.04 390.63 L52.04 390.30 L54.95 390.30 L54.95 390.58" fill="none" stroke="#505050" stroke-width="0.6"/>
<path d="M57.16 390.63 L57.16 390.70" fill="none" stroke="#505050" stroke-width="0.6"/>
<path d="M58.28 390.65 L58.28 390.70" fill="none" stroke="#505050" stroke-width="0.6"/>
<path d="M57.16 390.63 L57.16 390.53 L58.28 390.53 L58.28 390.65" fill="none" stroke="#505050" stroke-width="0.6"/>
<path d="M59.27 390.69 L59.27 390.70" fill="none" stroke="#505050" stroke-width="0.6"/>
<path d="M60.18 390.69 L60.18 390.70" fill="none" stroke="#505050" stroke-width="0.6"/>
<path d="M59.27 390.69 L59.27 390.67 L60.18 390.67 L60.18 390.69" fill="none" stroke="#505050" stroke-width="0.6"/>
<path d="M60.93 390.69 L60.93 390.70" fill="none" stroke="#505050" stroke-width="0.6"/>
<path d="M61.79 390.69 L61.79 390.70" fill="none" stroke="#505050" stroke-width="0.6"/>
<path d="M60.93 390.69 L60.93 390.67 L61.79 390.67 L61.79 390.69" fill="none" stroke="#505050" stroke-width="0.6"/>
<path d="M59.73 390.67 L59.73 390.55 L61.36 390.55 L61.36 390.67" fill="none" stroke="#505050" stroke-width="0.6"/>
<path d="M57.72 390.53 L57.72 390.24 L60.54 390.24 L60.54 390.55" fill="none" stroke="#505050" stroke-width="0.6"/>
<path d="M53.50 390.30 L53.50 389.24 L59.13 389.24 L59.13 390.24" fill="none" stroke="#505050" stroke-width="0.6"/>
<path d="M62.90 390.58 L62.90 390.70" fill="none" stroke="#505050" stroke-width="0.6"/>
<path d="M63.92 390.65 L63.92 390.70" fill="none" stroke="#505050" stroke-width="0.6"/>
<path d="M64.81 390.67 L64.81 390.70" fill="none" stroke="#505050" stroke-width="0.6"/>
<path d="M63.92 390.65 L63.92 390.59 L64.81 390.59 L64.81 390.67" fill="none" stroke="#505050" stroke-width="0.6"/>
<path d="M62.90 390.58 L62.90 390.31 L64.36 390.31 L64.36 390.59" fill="none" stroke="#505050" stroke-width="0.6"/>
<path d="M65.92 390.67 L65.92 390.70" fill="none" stroke="#505050" stroke-width="0.6"/>
<path d="M67.00 390.67 L67.00 390.70" fill="none" stroke="#505050" stroke-width="0.6"/>
<path d="M65.92 390.67 L65.92 390.59 L67.00 390.59 L67.00 390.67" fill="none" stroke="#505050" stroke-width="0.6"/>
<path d="M68.17 390.67 L68.17 390.70" fill="none" stroke="#505050" stroke-width="0.6"/>
<path d="M69.44 390.69 L69.44 390.70" fill="none" stroke="#505050" stroke-width="0.6"/>
<path d="M68.17 390.67 L68.17 390.64 L69.44 390.64 L69.44 390.69" fill="none" stroke="#505050" stroke-width="0.6"/>
<path d="M66.46 390.59 L66.46 390.32 L68.80 390.32 L68.80 390.64" fill="none" stroke="#505050" stroke-width="0.6"/>
<path d="M63.63 390.31 L63.63 389.71 L67.63 389.71 L67.63 390.32" fill="none" stroke="#505050" stroke-width="0.6"/>
<path d="M56.31 389.24 L56.31 386.61 L65.63 386.61 L65.63 389.71" fill="none" stroke="#505050" stroke-width="0.6"/>
<path d="M67.00 386.60 L60.97 386.60" fill="none" stroke="#8a8a8a" stroke-width="0.6"/>
<path d="M60.00 385.40 L66.70 385.40" fill="none" stroke="#8a8a8a" stroke-width="0.6"/>
<path d="M71.13 390.69 L71.13 390.70" fill="none" stroke="#505050" stroke-width="0.6"/>
<path d="M72.01 390.69 L72.01 390.70" fill="none" stroke="#505050" stroke-width="0.6"/>
<path d="M71.13 390.69 L71.13 390.68 L72.01 390.68 L72.01 390.69" fill="none" stroke="#505050" stroke-width="0.6"/>
<path d="M73.06 390.69 L73.06 390.70" fill="none" stroke="#505050" stroke-width="0.6"/>
<path d="M74.33 390.69 L74.33 390.70" fill="none" stroke="#505050" stroke-width="0.6"/>
<path d="M73.06 390.69 L73.06 390.68 L74.33 390.68 L74.33 390.69" fill="none" stroke="#505050" stroke-width="0.6"/>
<path d="M71.57 390.68 L71.57 390.64 L73.69 390.64 L73.69 390.68" fill="none" stroke="#505050" stroke-width="0.6"/>
<path d="M75.59 390.69 L75.59 390.70" fill="none" stroke="#505050" stroke-width="0.6"/>
<path d="M76.71 390.69 L76.71 390.70" fill="none" stroke="#505050" stroke-width="0.6"/>
<path d="M75.59 390.69 L75.59 390.69 L76.71 390.69 L76.71 390.69" fill="none" stroke="#505050" stroke-width="0.6"/>
<path d="M78.06 390.68 L78.06 390.70" fill="none" stroke="#505050" stroke-width="0.6"/>
<path d="M76.15 390.69 L76.15 390.64 L78.06 390.64 L78.06 390.68" fill="none" stroke="#505050" stroke-width="0.6"/>
<path d="M72.63 390.64 L72.63 390.57 L77.11 390.57 L77.11 390.64" fill="none" stroke="#505050" stroke-width="0.6"/>
<path d="M79.10 390.70 L79.10 390.70" fill="none" stroke="#505050" stroke-width="0.6"/>
<path d="M79.96 390.70 L79.96 390.70" fill="none" stroke="#505050" stroke-width="0.6"/>
<path d="M79.10 390.70 L79.10 390.69 L79.96 390.69 L79.96 390.70" fill="none" stroke="#505050" stroke-width="0.6"/>
<path d="M81.03 390.69 L81.03 390.70" fill="none" stroke="#505050" stroke-width="0.6"/>
<path d="M81.93 390.69 L81.93 390.70" fill="none" stroke="#505050" stroke-width="0.6"/>
<path d="M81.03 390.69 L81.03 390.69 L81.93 390.69 L81.93 390.69" fill="none" stroke="#505050" stroke-width="0.6"/>
<path d="M79.53 390.69 L79.53 390.67 L81.48 390.67 L81.48 390.69" fill="none" stroke="#505050" stroke-width="0.6"/>
<path d="M82.87 390.70 L82.87 390.70" fill="none" stroke="#505050" stroke-width="0.6"/>
<path d="M83.78 390.70 L83.78 390.70" fill="none" stroke="#505050" stroke-width="0.6"/>
<path d="M82.87 390.70 L82.87 390.70 L83.78 390.70 L83.78 390.70" fill="none" stroke="#505050" stroke-width="0.6"/>
<path d="M84.47 390.70 L84.47 390.70" fill="none" stroke="#505050" stroke-width="0.6"/>
<path d="M85.33 390.70 L85.33 390.70" fill="none" stroke="#505050" stroke-width="0.6"/>
<path d="M84.47 390.70 L84.47 390.70 L85.33 390.70 L85.33 390.70" fill="none" stroke="#505050" stroke-width="0.6"/>
<path d="M83.32 390.70 L83.32 390.69 L84.90 390.69 L84.90 390.70" fill="none" stroke="#505050" stroke-width="0.6"/>
<path d="M86.41 390.70 L86.41 390.70" fill="none" stroke="#505050" stroke-width="0.6"/>
<path d="M87.43 390.70 L87.43 390.70" fill="none" stroke="#505050" stroke-width="0.6"/>
<path d="M86.41 390.70 L86.41 390.69 L87.43 390.69 L87.43 390.70" fill="none" stroke="#505050" stroke-width="0.6"/>
<path d="M84.11 390.69 L84.11 390.68 L86.92 390.68 L86.92 390.69" fill="none" stroke="#505050" stroke-width="0.6"/>
<path d="M80.51 390.67 L80.51 390.54 L85.52 390.54 L85.52 390.68" fill="none" stroke="#505050" stroke-width="0.6"/>
<path d="M74.87 390.57 L74.87 390.31 L83.01 390.31 L83.01 390.54" fill="none" stroke="#505050" stroke-width="0.6"/>
<path d="M88.38 390.70 L88.38 390.70" fill="none" stroke="#505050" stroke-width="0.6"/>
<path d="M89.43 390.70 L89.43 390.70" fill="none" stroke="#505050" stroke-width="0.6"/>
<path d="M88.38 390.70 L88.38 390.69 L89.43 390.69 L89.43 390.70" fill="none" stroke="#505050" stroke-width="0.6"/>
<path d="M90.66 390.69 L90.66 390.70" fill="none" stroke="#505050" stroke-width="0.6"/>
<path d="M88.91 390.69 L88.91 390.67 L90.66 390.67 L90.66 390.69" fill="none" stroke="#505050" stroke-width="0.6"/>
<path d="M91.72 390.69 L91.72 390.70" fill="none" stroke="#505050" stroke-width="0.6"/>
<path d="M92.69 390.69 L92.69 390.70" fill="none" stroke="#505050" stroke-width="0.6"/>
<path d="M91.72 390.69 L91.72 390.66 L92.69 390.66 L92.69 390.69" fill="none" stroke="#505050" stroke-width="0.6"/>
<path d="M89.78 390.67 L89.78 390.53 L92.20 390.53 L92.20 390.66" fill="none" stroke="#505050" stroke-width="0.6"/>
<path d="M93.85 390.70 L93.85 390.70" fill="none" stroke="#505050" stroke-width="0.6"/>
<path d="M95.03 390.70 L95.03 390.70" fill="none" stroke="#505050" stroke-width="0.6"/>
<path d="M93.85 390.70 L93.85 390.70 L95.03 390.70 L95.03 390.70" fill="none" stroke="#505050" stroke-width="0.6"/>
<path d="M96.35 390.70 L96.35 390.70" fill="none" stroke="#505050" stroke-width="0.6"/>
<path d="M94.44 390.70 L94.44 390.69 L96.35 390.69 L96.35 390.70" fill="none" stroke="#505050" stroke-width="0.6"/>
<path d="M97.64 390.69 L97.64 390.70" fill="none" stroke="#505050" stroke-width="0.6"/>
<path d="M98.79 390.70 L98.79 390.70" fill="none" stroke="#505050" stroke-width="0.6"/>
<path d="M99.67 390.70 L99.67 390.70" fill="none" stroke="#505050" stroke-width="0.6"/>
<path d="M98.79 390.70 L98.79 390.69 L99.67 390.69 L99.67 390.70" fill="none" stroke="#505050" stroke-width="0.6"/>
<path d="M97.64 390.69 L97.64 390.67 L99.23 390.67 L99.23 390.69" fill="none" stroke="#505050" stroke-width="0.6"/>
<path d="M95.39 390.69 L95.39 390.61 L98.44 390.61 L98.44 390.67" fill="none" stroke="#505050" stroke-width="0.6"/>
<path d="M90.99 390.53 L90.99 390.26 L96.92 390.26 L96.92 390.61" fill="none" stroke="#505050" stroke-width="0.6"/>
<path d="M78.94 390.31 L78.94 388.61 L93.95 388.61 L93.95 390.26" fill="none" stroke="#505050" stroke-width="0.6"/>
<path d="M85.00 388.60 L86.45 388.60" fill="none" stroke="#8a8a8a" stroke-width="0.6"/>
<path d="M100.55 390.70 L100.55 390.70" fill="none" stroke="#505050" stroke-width="0.6"/>
<path d="M101.43 390.70 L101.43 390.70" fill="none" stroke="#505050" stroke-width="0.6"/>
<path d="M100.55 390.70 L100.55 390.70 L101.43 390.70 L101.43 390.70" fill="none" stroke="#505050" stroke-width="0.6"/>
<path d="M102.24 390.70 L102.24 390.70" fill="none" stroke="#505050" stroke-width="0.6"/>
<path d="M100.99 390.70 L100.99 390.69 L102.24 390.69 L102.24 390.70" fill="none" stroke="#505050" stroke-width="0.6"/>
<path d="M103.10 390.70 L103.10 390.70" fill="none" stroke="#505050" stroke-width="0.6"/>
<path d="M104.06 390.70 L104.06 390.70" fill="none" stroke="#505050" stroke-width="0.6"/>
<path d="M103.10 390.70 L103.10 390.70 L104.06 390.70 L104.06 390.70" fill="none" stroke="#505050" stroke-width="0.6"/>
<path d="M101.61 390.69 L101.61 390.68 L103.58 390.68 L103.58 390.70" fill="none" stroke="#505050" stroke-width="0.6"/>
<path d="M105.30 390.70 L105.30 390.70" fill="none" stroke="#505050" stroke-width="0.6"/>
<path d="M106.32 390.70 L106.32 390.70" fill="none" stroke="#505050" stroke-width="0.6"/>
<path d="M105.30 390.70 L105.30 390.69 L106.32 390.69 L106.32 390.70" fill="none" stroke="#505050" stroke-width="0.6"/>
<path d="M107.38 390.69 L107.38 390.70" fill="none" stroke="#505050" stroke-width="0.6"/>
<path d="M105.81 390.69 L105.81 390.67 L107.38 390.67 L107.38 390.69" fill="none" stroke="#505050" stroke-width="0.6"/>
<path d="M102.60 390.68 L102.60 390.63 L106.59 390.63 L106.59 390.67" fill="none" stroke="#505050" stroke-width="0.6"/>
<path d="M108.77 390.70 L108.77 390.70" fill="none" stroke="#505050" stroke-width="0.6"/>
<path d="M109.87 390.70 L109.87 390.70" fill="none" stroke="#505050" stroke-width="0.6"/>
<path d="M108.77 390.70 L108.77 390.69 L109.87 390.69 L109.87 390.70" fill="none" stroke="#505050" stroke-width="0.6"/>
<path d="M110.89 390.69 L110.89 390.70" fill="none" stroke="#505050" stroke-width="0.6"/>
<path d="M109.32 390.69 L109.32 390.66 L110.89 390.66 L110.89 390.69" fill="none" stroke="#505050" stroke-width="0.6"/>
<path d="M111.93 390.69 L111.93 390.70" fill="none" stroke="#505050" stroke-width="0.6"/>
<path d="M112.90 390.70 L112.90 390.70" fill="none" stroke="#505050" stroke-width="0.6"/>
<path d="M111.93 390.69 L111.93 390.68 L112.90 390.68 L112.90 390.70" fill="none" stroke="#505050" stroke-width="0.6"/>
<path d="M114.09 390.68 L114.09 390.70" fill="none" stroke="#505050" stroke-width="0.6"/>
<path d="M112.41 390.68 L112.41 390.66 L114.09 390.66 L114.09 390.68" fill="none" stroke="#505050" stroke-width="0.6"/>
<path d="M110.11 390.66 L110.11 390.61 L113.25 390.61 L113.25 390.66" fill="none" stroke="#505050" stroke-width="0.6"/>
<path d="M104.60 390.63 L104.60 390.28 L111.68 390.28 L111.68 390.61" fill="none" stroke="#505050" stroke-width="0.6"/>
<path d="M115.28 390.69 L115.28 390.70" fill="none" stroke="#505050" stroke-width="0.6"/>
<path d="M116.13 390.70 L116.13 390.70" fill="none" stroke="#505050" stroke-width="0.6"/>
<path d="M115.28 390.69 L115.28 390.68 L116.13 390.68 L116.13 390.70" fill="none" stroke="#505050" stroke-width="0.6"/>
<path d="M117.23 390.67 L117.23 390.70" fill="none" stroke="#505050" stroke-width="0.6"/>
<path d="M115.70 390.68 L115.70 390.61 L117.23 390.61 L117.23 390.67" fill="none" stroke="#505050" stroke-width="0.6"/>
<path d="M118.51 390.66 L118.51 390.70" fill="none" stroke="#505050" stroke-width="0.6"/>
<path d="M119.50 390.67 L119.50 390.70" fill="none" stroke="#505050" stroke-width="0.6"/>
<path d="M118.51 390.66 L118.51 390.61 L119.50 390.61 L119.50 390.67" fill="none" stroke="#505050" stroke-width="0.6"/>
<path d="M116.47 390.61 L116.47 390.43 L119.00 390.43 L119.00 390.61" fill="none" stroke="#505050" stroke-width="0.6"/>
<path d="M120.56 390.65 L120.56 390.70" fill="none" stroke="#505050" stroke-width="0.6"/>
<path d="M121.56 390.69 L121.56 390.70" fill="none" stroke="#505050" stroke-width="0.6"/>
<path d="M122.41 390.69 L122.41 390.70" fill="none" stroke="#505050" stroke-width="0.6"/>
<path d="M121.56 390.69 L121.56 390.66 L122.41 390.66 L122.41 390.69" fill="none" stroke="#505050" stroke-width="0.6"/>
<path d="M120.56 390.65 L120.56 390.54 L121.99 390.54 L121.99 390.66" fill="none" stroke="#505050" stroke-width="0.6"/>
<path d="M123.38 390.69 L123.38 390.70" fill="none" stroke="#505050" stroke-width="0.6"/>
<path d="M124.46 390.69 L124.46 390.70" fill="none" stroke="#505050" stroke-width="0.6"/>
<path d="M123.38 390.69 L123.38 390.68 L124.46 390.68 L124.46 390.69" fill="none" stroke="#505050" stroke-width="0.6"/>
<path d="M125.57 390.69 L125.57 390.70" fill="none" stroke="#505050" stroke-width="0.6"/>
<path d="M126.58 390.69 L126.58 390.70" fill="none" stroke="#505050" stroke-width="0.6"/>
<path d="M125.57 390.69 L125.57 390.67 L126.58 390.67 L126.58 390.69" fill="none" stroke="#505050" stroke-width="0.6"/>
<path d="M123.92 390.68 L123.92 390.63 L126.07 390.63 L126.07 390.67" fill="none" stroke="#505050" stroke-width="0.6"/>
<path d="M121.27 390.54 L121.27 390.35 L125.00 390.35 L125.00 390.63" fill="none" stroke="#505050" stroke-width="0.6"/>
<path d="M117.74 390.43 L117.74 389.86 L123.14 389.86 L123.14 390.35" fill="none" stroke="#505050" stroke-width="0.6"/>
<path d="M108.14 390.28 L108.14 388.71 L120.44 388.71 L120.44 389.86" fill="none" stroke="#505050" stroke-width="0.6"/>
<path d="M112.00 388.70 L114.29 388.70" fill="none" stroke="#8a8a8a" stroke-width="0.6"/>
<path d="M66.70 385.40 L66.70 387.90" fill="none" stroke="#8a8a8a" stroke-width="0.6"/>
<path d="M66.70 387.90 L112.00 387.90" fill="none" stroke="#8a8a8a" stroke-width="0.6"/>
<path d="M85.00 387.90 L85.00 388.60" fill="none" stroke="#8a8a8a" stroke-width="0.6"/>
<path d="M112.00 387.90 L112.00 388.70" fill="none" stroke="#8a8a8a" stroke-width="0.6"/>
<path d="M128.40 390.69 L128.40 390.70" fill="none" stroke="#505050" stroke-width="0.6"/>
<path d="M129.22 390.68 L129.22 390.70" fill="none" stroke="#505050" stroke-width="0.6"/>
<path d="M128.40 390.69 L128.40 390.63 L129.22 390.63 L129.22 390.68" fill="none" stroke="#505050" stroke-width="0.6"/>
<path d="M130.28 390.63 L130.28 390.70" fill="none" stroke="#505050" stroke-width="0.6"/>
<path d="M128.81 390.63 L128.81 390.47 L130.28 390.47 L130.28 390.63" fill="none" stroke="#505050" stroke-width="0.6"/>
<path d="M131.72 390.66 L131.72 390.70" fill="none" stroke="#505050" stroke-width="0.6"/>
<path d="M133.00 390.61 L133.00 390.70" fill="none" stroke="#505050" stroke-width="0.6"/>
<path d="M131.72 390.66 L131.72 390.47 L133.00 390.47 L133.00 390.61" fill="none" stroke="#505050" stroke-width="0.6"/>
<path d="M129.55 390.47 L129.55 389.93 L132.36 389.93 L132.36 390.47" fill="none" stroke="#505050" stroke-width="0.6"/>
<path d="M133.90 390.60 L133.90 390.70" fill="none" stroke="#505050" stroke-width="0.6"/>
<path d="M134.94 390.63 L134.94 390.70" fill="none" stroke="#505050" stroke-width="0.6"/>
<path d="M133.90 390.60 L133.90 390.47 L134.94 390.47 L134.94 390.63" fill="none" stroke="#505050" stroke-width="0.6"/>
<path d="M135.93 390.60 L135.93 390.70" fill="none" stroke="#505050" stroke-width="0.6"/>
<path d="M136.89 390.58 L136.89 390.70" fill="none" stroke="#505050" stroke-width="0.6"/>
<path d="M135.93 390.60 L135.93 390.42 L136.89 390.42 L136.89 390.58" fill="none" stroke="#505050" stroke-width="0.6"/>
<path d="M134.42 390.47 L134.42 389.31 L136.41 389.31 L136.41 390.42" fill="none" stroke="#505050" stroke-width="0.6"/>
<path d="M130.95 389.93 L130.95 386.31 L135.41 386.31 L135.41 389.31" fill="none" stroke="#505050" stroke-width="0.6"/>
<path d="M132.20 386.30 L133.18 386.30" fill="none" stroke="#8a8a8a" stroke-width="0.6"/>
<path d="M138.88 390.49 L138.88 390.70" fill="none" stroke="#505050" stroke-width="0.6"/>
<path d="M139.85 390.48 L139.85 390.70" fill="none" stroke="#505050" stroke-width="0.6"/>
<path d="M138.88 390.49 L138.88 389.82 L139.85 389.82 L139.85 390.48" fill="none" stroke="#505050" stroke-width="0.6"/>
<path d="M141.21 389.96 L141.21 390.70" fill="none" stroke="#505050" stroke-width="0.6"/>
<path d="M139.36 389.82 L139.36 386.61 L141.21 386.61 L141.21 389.96" fill="none" stroke="#505050" stroke-width="0.6"/>
<path d="M139.20 386.60 L140.29 386.60" fill="none" stroke="#8a8a8a" stroke-width="0.6"/>
<path d="M147.30 379.20 L147.30 381.30 L155.40 381.30 L155.40 385.20" fill="none" stroke="#8a8a8a" stroke-width="0.7"/>
<path d="M148.00 385.20 L163.00 385.20" fill="none" stroke="#8a8a8a" stroke-width="0.7"/>
<path d="M148.00 385.20 L148.00 387.50" fill="none" stroke="#8a8a8a" stroke-width="0.7"/>
<path d="M143.41 390.69 L143.41 390.70" fill="none" stroke="#505050" stroke-width="0.6"/>
<path d="M144.22 390.68 L144.22 390.70" fill="none" stroke="#505050" stroke-width="0.6"/>
<path d="M143.41 390.69 L143.41 390.60 L144.22 390.60 L144.22 390.68" fill="none" stroke="#505050" stroke-width="0.6"/>
<path d="M145.09 390.64 L145.09 390.70" fill="none" stroke="#505050" stroke-width="0.6"/>
<path d="M146.24 390.64 L146.24 390.70" fill="none" stroke="#505050" stroke-width="0.6"/>
<path d="M145.09 390.64 L145.09 390.50 L146.24 390.50 L146.24 390.64" fill="none" stroke="#505050" stroke-width="0.6"/>
<path d="M143.81 390.60 L143.81 390.11 L145.66 390.11 L145.66 390.50" fill="none" stroke="#505050" stroke-width="0.6"/>
<path d="M147.71 390.61 L147.71 390.70" fill="none" stroke="#505050" stroke-width="0.6"/>
<path d="M149.08 390.64 L149.08 390.70" fill="none" stroke="#505050" stroke-width="0.6"/>
<path d="M147.71 390.61 L147.71 390.50 L149.08 390.50 L149.08 390.64" fill="none" stroke="#505050" stroke-width="0.6"/>
<path d="M150.10 390.68 L150.10 390.70" fill="none" stroke="#505050" stroke-width="0.6"/>
<path d="M150.90 390.67 L150.90 390.70" fill="none" stroke="#505050" stroke-width="0.6"/>
<path d="M150.10 390.68 L150.10 390.62 L150.90 390.62 L150.90 390.67" fill="none" stroke="#505050" stroke-width="0.6"/>
<path d="M151.83 390.69 L151.83 390.70" fill="none" stroke="#505050" stroke-width="0.6"/>
<path d="M152.69 390.69 L152.69 390.70" fill="none" stroke="#505050" stroke-width="0.6"/>
<path d="M151.83 390.69 L151.83 390.64 L152.69 390.64 L152.69 390.69" fill="none" stroke="#505050" stroke-width="0.6"/>
<path d="M150.50 390.62 L150.50 390.52 L152.26 390.52 L152.26 390.64" fill="none" stroke="#505050" stroke-width="0.6"/>
<path d="M148.39 390.50 L148.39 390.19 L151.38 390.19 L151.38 390.52" fill="none" stroke="#505050" stroke-width="0.6"/>
<path d="M144.74 390.11 L144.74 387.51 L149.89 387.51 L149.89 390.19" fill="none" stroke="#505050" stroke-width="0.6"/>
<path d="M148.00 387.50 L147.31 387.50" fill="none" stroke="#8a8a8a" stroke-width="0.6"/>
<path d="M163.00 385.20 L163.00 386.40 L172.00 386.40" fill="none" stroke="#8a8a8a" stroke-width="0.7"/>
<path d="M153.80 390.63 L153.80 390.70" fill="none" stroke="#505050" stroke-width="0.6"/>
<path d="M154.97 390.67 L154.97 390.70" fill="none" stroke="#505050" stroke-width="0.6"/>
<path d="M155.84 390.68 L155.84 390.70" fill="none" stroke="#505050" stroke-width="0.6"/>
<path d="M154.97 390.67 L154.97 390.61 L155.84 390.61 L155.84 390.68" fill="none" stroke="#505050" stroke-width="0.6"/>
<path d="M153.80 390.63 L153.80 390.28 L155.40 390.28 L155.40 390.61" fill="none" stroke="#505050" stroke-width="0.6"/>
<path d="M156.96 390.59 L156.96 390.70" fill="none" stroke="#505050" stroke-width="0.6"/>
<path d="M158.15 390.50 L158.15 390.70" fill="none" stroke="#505050" stroke-width="0.6"/>
<path d="M156.96 390.59 L156.96 390.23 L158.15 390.23 L158.15 390.50" fill="none" stroke="#505050" stroke-width="0.6"/>
<path d="M154.60 390.28 L154.60 389.56 L157.56 389.56 L157.56 390.23" fill="none" stroke="#505050" stroke-width="0.6"/>
<path d="M159.35 390.64 L159.35 390.70" fill="none" stroke="#505050" stroke-width="0.6"/>
<path d="M160.62 390.66 L160.62 390.70" fill="none" stroke="#505050" stroke-width="0.6"/>
<path d="M161.69 390.68 L161.69 390.70" fill="none" stroke="#505050" stroke-width="0.6"/>
<path d="M160.62 390.66 L160.62 390.61 L161.69 390.61 L161.69 390.68" fill="none" stroke="#505050" stroke-width="0.6"/>
<path d="M159.35 390.64 L159.35 390.37 L161.16 390.37 L161.16 390.61" fill="none" stroke="#505050" stroke-width="0.6"/>
<path d="M162.62 390.68 L162.62 390.70" fill="none" stroke="#505050" stroke-width="0.6"/>
<path d="M163.71 390.69 L163.71 390.70" fill="none" stroke="#505050" stroke-width="0.6"/>
<path d="M162.62 390.68 L162.62 390.62 L163.71 390.62 L163.71 390.69" fill="none" stroke="#505050" stroke-width="0.6"/>
<path d="M165.10 390.64 L165.10 390.70" fill="none" stroke="#505050" stroke-width="0.6"/>
<path d="M166.34 390.68 L166.34 390.70" fill="none" stroke="#505050" stroke-width="0.6"/>
<path d="M167.39 390.68 L167.39 390.70" fill="none" stroke="#505050" stroke-width="0.6"/>
<path d="M166.34 390.68 L166.34 390.66 L167.39 390.66 L167.39 390.68" fill="none" stroke="#505050" stroke-width="0.6"/>
<path d="M165.10 390.64 L165.10 390.56 L166.86 390.56 L166.86 390.66" fill="none" stroke="#505050" stroke-width="0.6"/>
<path d="M163.16 390.62 L163.16 390.26 L165.98 390.26 L165.98 390.56" fill="none" stroke="#505050" stroke-width="0.6"/>
<path d="M160.26 390.37 L160.26 389.35 L164.57 389.35 L164.57 390.26" fill="none" stroke="#505050" stroke-width="0.6"/>
<path d="M156.08 389.56 L156.08 387.61 L162.41 387.61 L162.41 389.35" fill="none" stroke="#505050" stroke-width="0.6"/>
<path d="M160.00 387.60 L159.25 387.60" fill="none" stroke="#8a8a8a" stroke-width="0.6"/>
<path d="M160.00 386.40 L160.00 387.60" fill="none" stroke="#8a8a8a" stroke-width="0.6"/>
<path d="M172.00 386.40 L172.00 387.60 L182.00 387.60" fill="none" stroke="#8a8a8a" stroke-width="0.7"/>
<path d="M168.56 390.61 L168.56 390.70" fill="none" stroke="#505050" stroke-width="0.6"/>
<path d="M169.69 390.63 L169.69 390.70" fill="none" stroke="#505050" stroke-width="0.6"/>
<path d="M168.56 390.61 L168.56 390.48 L169.69 390.48 L169.69 390.63" fill="none" stroke="#505050" stroke-width="0.6"/>
<path d="M170.76 390.57 L170.76 390.70" fill="none" stroke="#505050" stroke-width="0.6"/>
<path d="M171.80 390.66 L171.80 390.70" fill="none" stroke="#505050" stroke-width="0.6"/>
<path d="M172.72 390.64 L172.72 390.70" fill="none" stroke="#505050" stroke-width="0.6"/>
<path d="M171.80 390.66 L171.80 390.54 L172.72 390.54 L172.72 390.64" fill="none" stroke="#505050" stroke-width="0.6"/>
<path d="M170.76 390.57 L170.76 390.35 L172.26 390.35 L172.26 390.54" fill="none" stroke="#505050" stroke-width="0.6"/>
<path d="M169.13 390.48 L169.13 389.73 L171.51 389.73 L171.51 390.35" fill="none" stroke="#505050" stroke-width="0.6"/>
<path d="M173.89 390.68 L173.89 390.70" fill="none" stroke="#505050" stroke-width="0.6"/>
<path d="M175.20 390.69 L175.20 390.70" fill="none" stroke="#505050" stroke-width="0.6"/>
<path d="M173.89 390.68 L173.89 390.65 L175.20 390.65 L175.20 390.69" fill="none" stroke="#505050" stroke-width="0.6"/>
<path d="M176.21 390.69 L176.21 390.70" fill="none" stroke="#505050" stroke-width="0.6"/>
<path d="M177.10 390.68 L177.10 390.70" fill="none" stroke="#505050" stroke-width="0.6"/>
<path d="M176.21 390.69 L176.21 390.65 L177.10 390.65 L177.10 390.68" fill="none" stroke="#505050" stroke-width="0.6"/>
<path d="M174.55 390.65 L174.55 390.55 L176.65 390.55 L176.65 390.65" fill="none" stroke="#505050" stroke-width="0.6"/>
<path d="M178.13 390.67 L178.13 390.70" fill="none" stroke="#505050" stroke-width="0.6"/>
<path d="M179.48 390.66 L179.48 390.70" fill="none" stroke="#505050" stroke-width="0.6"/>
<path d="M178.13 390.67 L178.13 390.61 L179.48 390.61 L179.48 390.66" fill="none" stroke="#505050" stroke-width="0.6"/>
<path d="M180.55 390.66 L180.55 390.70" fill="none" stroke="#505050" stroke-width="0.6"/>
<path d="M181.45 390.68 L181.45 390.70" fill="none" stroke="#505050" stroke-width="0.6"/>
<path d="M180.55 390.66 L180.55 390.60 L181.45 390.60 L181.45 390.68" fill="none" stroke="#505050" stroke-width="0.6"/>
<path d="M178.80 390.61 L178.80 390.33 L181.00 390.33 L181.00 390.60" fill="none" stroke="#505050" stroke-width="0.6"/>
<path d="M175.60 390.55 L175.60 389.81 L179.90 389.81 L179.90 390.33" fill="none" stroke="#505050" stroke-width="0.6"/>
<path d="M170.32 389.73 L170.32 388.21 L177.75 388.21 L177.75 389.81" fill="none" stroke="#505050" stroke-width="0.6"/>
<path d="M175.00 388.20 L174.03 388.20" fill="none" stroke="#8a8a8a" stroke-width="0.6"/>
<path d="M175.00 387.60 L175.00 388.20" fill="none" stroke="#8a8a8a" stroke-width="0.6"/>
<path d="M182.00 387.60 L182.00 388.20 L221.00 388.80" fill="none" stroke="#8a8a8a" stroke-width="0.7"/>
<path d="M182.49 390.68 L182.49 390.70" fill="none" stroke="#505050" stroke-width="0.6"/>
<path d="M183.50 390.68 L183.50 390.70" fill="none" stroke="#505050" stroke-width="0.6"/>
<path d="M182.49 390.68 L182.49 390.64 L183.50 390.64 L183.50 390.68" fill="none" stroke="#505050" stroke-width="0.6"/>
<path d="M184.57 390.69 L184.57 390.70" fill="none" stroke="#505050" stroke-width="0.6"/>
<path d="M185.88 390.69 L185.88 390.70" fill="none" stroke="#505050" stroke-width="0.6"/>
<path d="M184.57 390.69 L184.57 390.64 L185.88 390.64 L185.88 390.69" fill="none" stroke="#505050" stroke-width="0.6"/>
<path d="M182.99 390.64 L182.99 390.54 L185.23 390.54 L185.23 390.64" fill="none" stroke="#505050" stroke-width="0.6"/>
<path d="M187.41 390.62 L187.41 390.70" fill="none" stroke="#505050" stroke-width="0.6"/>
<path d="M188.94 390.67 L188.94 390.70" fill="none" stroke="#505050" stroke-width="0.6"/>
<path d="M187.41 390.62 L187.41 390.49 L188.94 390.49 L188.94 390.67" fill="none" stroke="#505050" stroke-width="0.6"/>
<path d="M184.11 390.54 L184.11 389.86 L188.17 389.86 L188.17 390.49" fill="none" stroke="#505050" stroke-width="0.6"/>
<path d="M190.12 390.67 L190.12 390.70" fill="none" stroke="#505050" stroke-width="0.6"/>
<path d="M191.18 390.66 L191.18 390.70" fill="none" stroke="#505050" stroke-width="0.6"/>
<path d="M190.12 390.67 L190.12 390.61 L191.18 390.61 L191.18 390.66" fill="none" stroke="#505050" stroke-width="0.6"/>
<path d="M192.33 390.66 L192.33 390.70" fill="none" stroke="#505050" stroke-width="0.6"/>
<path d="M193.55 390.67 L193.55 390.70" fill="none" stroke="#505050" stroke-width="0.6"/>
<path d="M192.33 390.66 L192.33 390.61 L193.55 390.61 L193.55 390.67" fill="none" stroke="#505050" stroke-width="0.6"/>
<path d="M190.65 390.61 L190.65 390.40 L192.94 390.40 L192.94 390.61" fill="none" stroke="#505050" stroke-width="0.6"/>
<path d="M194.69 390.65 L194.69 390.70" fill="none" stroke="#505050" stroke-width="0.6"/>
<path d="M195.73 390.65 L195.73 390.70" fill="none" stroke="#505050" stroke-width="0.6"/>
<path d="M194.69 390.65 L194.69 390.52 L195.73 390.52 L195.73 390.65" fill="none" stroke="#505050" stroke-width="0.6"/>
<path d="M196.98 390.69 L196.98 390.70" fill="none" stroke="#505050" stroke-width="0.6"/>
<path d="M198.04 390.69 L198.04 390.70" fill="none" stroke="#505050" stroke-width="0.6"/>
<path d="M196.98 390.69 L196.98 390.66 L198.04 390.66 L198.04 390.69" fill="none" stroke="#505050" stroke-width="0.6"/>
<path d="M199.22 390.67 L199.22 390.70" fill="none" stroke="#505050" stroke-width="0.6"/>
<path d="M197.51 390.66 L197.51 390.56 L199.22 390.56 L199.22 390.67" fill="none" stroke="#505050" stroke-width="0.6"/>
<path d="M195.21 390.52 L195.21 390.30 L198.37 390.30 L198.37 390.56" fill="none" stroke="#505050" stroke-width="0.6"/>
<path d="M191.79 390.40 L191.79 389.81 L196.79 389.81 L196.79 390.30" fill="none" stroke="#505050" stroke-width="0.6"/>
<path d="M186.14 389.86 L186.14 388.61 L194.29 388.61 L194.29 389.81" fill="none" stroke="#505050" stroke-width="0.6"/>
<path d="M190.00 388.60 L190.22 388.60" fill="none" stroke="#8a8a8a" stroke-width="0.6"/>
<path d="M200.68 390.69 L200.68 390.70" fill="none" stroke="#505050" stroke-width="0.6"/>
<path d="M202.03 390.69 L202.03 390.70" fill="none" stroke="#505050" stroke-width="0.6"/>
<path d="M200.68 390.69 L200.68 390.66 L202.03 390.66 L202.03 390.69" fill="none" stroke="#505050" stroke-width="0.6"/>
<path d="M203.25 390.69 L203.25 390.70" fill="none" stroke="#505050" stroke-width="0.6"/>
<path d="M204.17 390.70 L204.17 390.70" fill="none" stroke="#505050" stroke-width="0.6"/>
<path d="M203.25 390.69 L203.25 390.67 L204.17 390.67 L204.17 390.70" fill="none" stroke="#505050" stroke-width="0.6"/>
<path d="M201.35 390.66 L201.35 390.61 L203.71 390.61 L203.71 390.67" fill="none" stroke="#505050" stroke-width="0.6"/>
<path d="M205.33 390.68 L205.33 390.70" fill="none" stroke="#505050" stroke-width="0.6"/>
<path d="M206.73 390.67 L206.73 390.70" fill="none" stroke="#505050" stroke-width="0.6"/>
<path d="M205.33 390.68 L205.33 390.62 L206.73 390.62 L206.73 390.67" fill="none" stroke="#505050" stroke-width="0.6"/>
<path d="M202.53 390.61 L202.53 390.37 L206.03 390.37 L206.03 390.62" fill="none" stroke="#505050" stroke-width="0.6"/>
<path d="M207.78 390.69 L207.78 390.70" fill="none" stroke="#505050" stroke-width="0.6"/>
<path d="M208.90 390.68 L208.90 390.70" fill="none" stroke="#505050" stroke-width="0.6"/>
<path d="M207.78 390.69 L207.78 390.64 L208.90 390.64 L208.90 390.68" fill="none" stroke="#505050" stroke-width="0.6"/>
<path d="M210.12 390.69 L210.12 390.70" fill="none" stroke="#505050" stroke-width="0.6"/>
<path d="M211.18 390.70 L211.18 390.70" fill="none" stroke="#505050" stroke-width="0.6"/>
<path d="M210.12 390.69 L210.12 390.69 L211.18 390.69 L211.18 390.70" fill="none" stroke="#505050" stroke-width="0.6"/>
<path d="M212.25 390.70 L212.25 390.70" fill="none" stroke="#505050" stroke-width="0.6"/>
<path d="M213.16 390.70 L213.16 390.70" fill="none" stroke="#505050" stroke-width="0.6"/>
<path d="M212.25 390.70 L212.25 390.69 L213.16 390.69 L213.16 390.70" fill="none" stroke="#505050" stroke-width="0.6"/>
<path d="M210.65 390.69 L210.65 390.65 L212.71 390.65 L212.71 390.69" fill="none" stroke="#505050" stroke-width="0.6"/>
<path d="M208.34 390.64 L208.34 390.55 L211.68 390.55 L211.68 390.65" fill="none" stroke="#505050" stroke-width="0.6"/>
<path d="M204.28 390.37 L204.28 389.93 L210.01 389.93 L210.01 390.55" fill="none" stroke="#505050" stroke-width="0.6"/>
<path d="M214.05 390.67 L214.05 390.70" fill="none" stroke="#505050" stroke-width="0.6"/>
<path d="M214.92 390.68 L214.92 390.70" fill="none" stroke="#505050" stroke-width="0.6"/>
<path d="M214.05 390.67 L214.05 390.62 L214.92 390.62 L214.92 390.68" fill="none" stroke="#505050" stroke-width="0.6"/>
<path d="M216.04 390.68 L216.04 390.70" fill="none" stroke="#505050" stroke-width="0.6"/>
<path d="M217.21 390.68 L217.21 390.70" fill="none" stroke="#505050" stroke-width="0.6"/>
<path d="M216.04 390.68 L216.04 390.63 L217.21 390.63 L217.21 390.68" fill="none" stroke="#505050" stroke-width="0.6"/>
<path d="M214.48 390.62 L214.48 390.51 L216.63 390.51 L216.63 390.63" fill="none" stroke="#505050" stroke-width="0.6"/>
<path d="M218.08 390.69 L218.08 390.70" fill="none" stroke="#505050" stroke-width="0.6"/>
<path d="M218.91 390.69 L218.91 390.70" fill="none" stroke="#505050" stroke-width="0.6"/>
<path d="M218.08 390.69 L218.08 390.68 L218.91 390.68 L218.91 390.69" fill="none" stroke="#505050" stroke-width="0.6"/>
<path d="M219.63 390.69 L219.63 390.70" fill="none" stroke="#505050" stroke-width="0.6"/>
<path d="M220.48 390.69 L220.48 390.70" fill="none" stroke="#505050" stroke-width="0.6"/>
<path d="M219.63 390.69 L219.63 390.68 L220.48 390.68 L220.48 390.69" fill="none" stroke="#505050" stroke-width="0.6"/>
<path d="M218.49 390.68 L218.49 390.60 L220.06 390.60 L220.06 390.68" fill="none" stroke="#505050" stroke-width="0.6"/>
<path d="M215.56 390.51 L215.56 390.26 L219.28 390.26 L219.28 390.60" fill="none" stroke="#505050" stroke-width="0.6"/>
<path d="M207.14 389.93 L207.14 388.81 L217.42 388.81 L217.42 390.26" fill="none" stroke="#505050" stroke-width="0.6"/>
<path d="M210.00 388.80 L212.28 388.80" fill="none" stroke="#8a8a8a" stroke-width="0.6"/>
<rect x="17.5" y="428.7" width="3.6" height="54.5" fill="url(#gC)"/>
<text font-size="7.6" fill="#333" text-anchor="end" stroke="#333" stroke-width="0.22" transform="translate(14.30 433.20)" >2</text>
<text font-size="7.6" fill="#333" text-anchor="end" stroke="#333" stroke-width="0.22" transform="translate(14.30 445.90)" >1</text>
<text font-size="7.6" fill="#333" text-anchor="end" stroke="#333" stroke-width="0.22" transform="translate(14.30 458.60)" >0</text>
<text font-size="7.6" fill="#333" text-anchor="end" stroke="#333" stroke-width="0.22" transform="translate(14.30 471.30)" >-1</text>
<text font-size="7.6" fill="#333" text-anchor="end" stroke="#333" stroke-width="0.22" transform="translate(14.30 484.00)" >-2</text>
<text font-size="7.6" fill="#333" text-anchor="start" textLength="23.30" lengthAdjust="spacingAndGlyphs" stroke="#333" stroke-width="0.2" transform="translate(236.00 394.80) rotate(90)" >Late-E</text>
<text font-size="7.6" fill="#333" text-anchor="start" textLength="20.10" lengthAdjust="spacingAndGlyphs" stroke="#333" stroke-width="0.2" transform="translate(226.90 395.90) rotate(90)" >/Int-E</text>
<text font-size="7.6" fill="#333" text-anchor="start" textLength="18.00" lengthAdjust="spacingAndGlyphs" stroke="#333" stroke-width="0.2" transform="translate(226.90 427.60) rotate(90)" >Pro-E</text>
<text font-size="7.6" fill="#333" text-anchor="start" textLength="23.30" lengthAdjust="spacingAndGlyphs" stroke="#333" stroke-width="0.2" transform="translate(226.90 456.20) rotate(90)" >CFU-E</text>
<rect x="283.20" y="362.40" width="155.80" height="121.40" fill="none" stroke="#1e1e1e" stroke-width="1.25"/>
<line x1="284.00" y1="483.80" x2="284.00" y2="486.80" stroke="#1e1e1e" stroke-width="1.0"/>
<text font-size="8.3" fill="#333" text-anchor="middle" stroke="#333" stroke-width="0.15" transform="translate(284.00 496.80) scale(0.92 1)" >-100</text>
<line x1="331.60" y1="483.80" x2="331.60" y2="486.80" stroke="#1e1e1e" stroke-width="1.0"/>
<text font-size="8.3" fill="#333" text-anchor="middle" stroke="#333" stroke-width="0.15" transform="translate(331.60 496.80) scale(0.92 1)" >0</text>
<line x1="379.20" y1="483.80" x2="379.20" y2="486.80" stroke="#1e1e1e" stroke-width="1.0"/>
<text font-size="8.3" fill="#333" text-anchor="middle" stroke="#333" stroke-width="0.15" transform="translate(379.20 496.80) scale(0.92 1)" >100</text>
<line x1="426.80" y1="483.80" x2="426.80" y2="486.80" stroke="#1e1e1e" stroke-width="1.0"/>
<text font-size="8.3" fill="#333" text-anchor="middle" stroke="#333" stroke-width="0.15" transform="translate(426.80 496.80) scale(0.92 1)" >200</text>
<line x1="280.20" y1="367.04" x2="283.20" y2="367.04" stroke="#1e1e1e" stroke-width="1.0"/>
<text font-size="8.3" fill="#333" text-anchor="end" stroke="#333" stroke-width="0.15" transform="translate(277.00 369.94) scale(0.92 1)" >100</text>
<line x1="280.20" y1="389.32" x2="283.20" y2="389.32" stroke="#1e1e1e" stroke-width="1.0"/>
<text font-size="8.3" fill="#333" text-anchor="end" stroke="#333" stroke-width="0.15" transform="translate(277.00 392.22) scale(0.92 1)" >50</text>
<line x1="280.20" y1="411.60" x2="283.20" y2="411.60" stroke="#1e1e1e" stroke-width="1.0"/>
<text font-size="8.3" fill="#333" text-anchor="end" stroke="#333" stroke-width="0.15" transform="translate(277.00 414.50) scale(0.92 1)" >0</text>
<line x1="280.20" y1="433.88" x2="283.20" y2="433.88" stroke="#1e1e1e" stroke-width="1.0"/>
<text font-size="8.3" fill="#333" text-anchor="end" stroke="#333" stroke-width="0.15" transform="translate(277.00 436.78) scale(0.92 1)" >-50</text>
<line x1="280.20" y1="456.16" x2="283.20" y2="456.16" stroke="#1e1e1e" stroke-width="1.0"/>
<text font-size="8.3" fill="#333" text-anchor="end" stroke="#333" stroke-width="0.15" transform="translate(277.00 459.06) scale(0.92 1)" >-100</text>
<line x1="280.20" y1="478.44" x2="283.20" y2="478.44" stroke="#1e1e1e" stroke-width="1.0"/>
<text font-size="8.3" fill="#333" text-anchor="end" stroke="#333" stroke-width="0.15" transform="translate(277.00 481.34) scale(0.92 1)" >-150</text>
<circle cx="303.30" cy="379.60" r="1.75" fill="#d65a4e"/>
<circle cx="306.80" cy="379.60" r="1.75" fill="#d65a4e"/>
<circle cx="303.00" cy="384.60" r="1.75" fill="#d65a4e"/>
<circle cx="321.80" cy="385.60" r="1.75" fill="#d65a4e"/>
<circle cx="316.00" cy="388.30" r="1.75" fill="#d65a4e"/>
<circle cx="318.90" cy="390.60" r="1.75" fill="#d65a4e"/>
<circle cx="309.70" cy="392.30" r="1.75" fill="#d65a4e"/>
<circle cx="312.60" cy="391.70" r="1.75" fill="#d65a4e"/>
<circle cx="315.40" cy="393.40" r="1.75" fill="#d65a4e"/>
<circle cx="317.80" cy="393.40" r="1.75" fill="#d65a4e"/>
<circle cx="320.10" cy="393.40" r="1.75" fill="#d65a4e"/>
<circle cx="324.70" cy="394.60" r="1.75" fill="#d65a4e"/>
<circle cx="333.90" cy="394.60" r="1.75" fill="#d65a4e"/>
<circle cx="311.40" cy="396.90" r="1.75" fill="#d65a4e"/>
<circle cx="316.60" cy="398.10" r="1.75" fill="#d65a4e"/>
<circle cx="294.10" cy="399.80" r="1.75" fill="#d65a4e"/>
<circle cx="301.00" cy="400.40" r="1.75" fill="#d65a4e"/>
<circle cx="304.50" cy="399.80" r="1.75" fill="#d65a4e"/>
<circle cx="308.50" cy="400.40" r="1.75" fill="#d65a4e"/>
<circle cx="312.60" cy="400.90" r="1.75" fill="#d65a4e"/>
<circle cx="324.70" cy="401.50" r="1.75" fill="#d65a4e"/>
<circle cx="305.10" cy="403.30" r="1.75" fill="#d65a4e"/>
<circle cx="319.50" cy="404.40" r="1.75" fill="#d65a4e"/>
<circle cx="303.30" cy="405.60" r="1.75" fill="#d65a4e"/>
<circle cx="307.40" cy="405.00" r="1.75" fill="#d65a4e"/>
<circle cx="333.90" cy="405.60" r="1.75" fill="#d65a4e"/>
<circle cx="306.20" cy="409.80" r="1.75" fill="#d65a4e"/>
<circle cx="313.10" cy="409.80" r="1.75" fill="#d65a4e"/>
<circle cx="317.80" cy="410.20" r="1.75" fill="#d65a4e"/>
<circle cx="320.60" cy="409.80" r="1.75" fill="#d65a4e"/>
<circle cx="332.70" cy="409.40" r="1.75" fill="#d65a4e"/>
<circle cx="323.50" cy="413.30" r="1.75" fill="#d65a4e"/>
<circle cx="301.00" cy="416.30" r="1.75" fill="#d65a4e"/>
<circle cx="320.10" cy="415.40" r="1.75" fill="#d65a4e"/>
<circle cx="329.90" cy="415.90" r="1.75" fill="#d65a4e"/>
<circle cx="314.30" cy="418.80" r="1.75" fill="#d65a4e"/>
<circle cx="333.90" cy="419.50" r="1.75" fill="#d65a4e"/>
<circle cx="315.00" cy="420.40" r="1.75" fill="#d65a4e"/>
<circle cx="325.70" cy="421.10" r="1.75" fill="#d65a4e"/>
<circle cx="332.50" cy="421.10" r="1.75" fill="#d65a4e"/>
<circle cx="291.20" cy="428.10" r="1.75" fill="#d65a4e"/>
<circle cx="307.60" cy="426.00" r="1.75" fill="#d65a4e"/>
<circle cx="329.50" cy="427.40" r="1.75" fill="#d65a4e"/>
<circle cx="318.60" cy="429.50" r="1.75" fill="#d65a4e"/>
<circle cx="303.80" cy="431.80" r="1.75" fill="#d65a4e"/>
<circle cx="316.70" cy="431.80" r="1.75" fill="#d65a4e"/>
<circle cx="317.00" cy="434.90" r="1.75" fill="#d65a4e"/>
<circle cx="321.00" cy="436.80" r="1.75" fill="#d65a4e"/>
<circle cx="325.70" cy="435.50" r="1.75" fill="#d65a4e"/>
<circle cx="327.80" cy="435.90" r="1.75" fill="#d65a4e"/>
<circle cx="306.00" cy="437.60" r="1.75" fill="#d65a4e"/>
<circle cx="335.60" cy="438.10" r="1.75" fill="#d65a4e"/>
<circle cx="339.90" cy="440.60" r="1.75" fill="#d65a4e"/>
<circle cx="307.80" cy="441.40" r="1.75" fill="#d65a4e"/>
<circle cx="313.50" cy="439.90" r="1.75" fill="#d65a4e"/>
<circle cx="325.30" cy="439.90" r="1.75" fill="#d65a4e"/>
<circle cx="327.50" cy="439.20" r="1.75" fill="#d65a4e"/>
<circle cx="337.90" cy="445.70" r="1.75" fill="#d65a4e"/>
<circle cx="321.30" cy="452.10" r="1.75" fill="#d65a4e"/>
<circle cx="303.10" cy="457.50" r="1.75" fill="#d65a4e"/>
<circle cx="299.90" cy="470.50" r="1.75" fill="#d65a4e"/>
<circle cx="335.40" cy="476.90" r="1.75" fill="#d65a4e"/>
<circle cx="345.20" cy="425.50" r="1.75" fill="#d65a4e"/>
<circle cx="353.80" cy="457.80" r="1.75" fill="#d65a4e"/>
<circle cx="329.90" cy="374.40" r="1.75" fill="#88b41c"/>
<circle cx="313.70" cy="378.10" r="1.75" fill="#88b41c"/>
<circle cx="318.90" cy="381.00" r="1.75" fill="#88b41c"/>
<circle cx="323.30" cy="381.90" r="1.75" fill="#88b41c"/>
<circle cx="328.50" cy="379.60" r="1.75" fill="#88b41c"/>
<circle cx="334.50" cy="378.80" r="1.75" fill="#88b41c"/>
<circle cx="312.90" cy="385.40" r="1.75" fill="#88b41c"/>
<circle cx="327.90" cy="385.40" r="1.75" fill="#88b41c"/>
<circle cx="334.50" cy="386.30" r="1.75" fill="#88b41c"/>
<circle cx="336.00" cy="385.40" r="1.75" fill="#88b41c"/>
<circle cx="310.30" cy="389.40" r="1.75" fill="#88b41c"/>
<circle cx="316.00" cy="391.70" r="1.75" fill="#88b41c"/>
<circle cx="323.00" cy="394.60" r="1.75" fill="#88b41c"/>
<circle cx="322.40" cy="397.50" r="1.75" fill="#88b41c"/>
<circle cx="326.80" cy="396.70" r="1.75" fill="#88b41c"/>
<circle cx="332.20" cy="399.20" r="1.75" fill="#88b41c"/>
<circle cx="337.10" cy="398.30" r="1.75" fill="#88b41c"/>
<circle cx="337.70" cy="403.80" r="1.75" fill="#88b41c"/>
<circle cx="325.30" cy="405.60" r="1.75" fill="#88b41c"/>
<circle cx="327.60" cy="409.40" r="1.75" fill="#88b41c"/>
<circle cx="320.10" cy="411.30" r="1.75" fill="#88b41c"/>
<circle cx="339.40" cy="413.10" r="1.75" fill="#88b41c"/>
<circle cx="391.70" cy="366.00" r="1.75" fill="#88b41c"/>
<circle cx="389.60" cy="373.80" r="1.75" fill="#88b41c"/>
<circle cx="346.10" cy="377.90" r="1.75" fill="#88b41c"/>
<circle cx="377.90" cy="380.20" r="1.75" fill="#88b41c"/>
<circle cx="347.00" cy="391.70" r="1.75" fill="#88b41c"/>
<circle cx="381.90" cy="391.70" r="1.75" fill="#88b41c"/>
<circle cx="364.00" cy="397.70" r="1.75" fill="#88b41c"/>
<circle cx="363.30" cy="400.10" r="1.75" fill="#88b41c"/>
<circle cx="381.90" cy="403.00" r="1.75" fill="#88b41c"/>
<circle cx="377.20" cy="405.30" r="1.75" fill="#88b41c"/>
<circle cx="361.40" cy="406.70" r="1.75" fill="#88b41c"/>
<circle cx="371.20" cy="417.70" r="1.75" fill="#88b41c"/>
<circle cx="374.10" cy="418.80" r="1.75" fill="#88b41c"/>
<circle cx="379.60" cy="419.10" r="1.75" fill="#88b41c"/>
<circle cx="367.00" cy="421.50" r="1.75" fill="#88b41c"/>
<circle cx="363.30" cy="423.70" r="1.75" fill="#88b41c"/>
<circle cx="364.90" cy="431.40" r="1.75" fill="#88b41c"/>
<circle cx="351.50" cy="435.20" r="1.75" fill="#88b41c"/>
<circle cx="360.60" cy="435.20" r="1.75" fill="#88b41c"/>
<circle cx="382.80" cy="437.20" r="1.75" fill="#88b41c"/>
<circle cx="353.50" cy="446.20" r="1.75" fill="#88b41c"/>
<circle cx="377.30" cy="448.00" r="1.75" fill="#88b41c"/>
<circle cx="366.70" cy="457.80" r="1.75" fill="#88b41c"/>
<circle cx="410.80" cy="373.90" r="1.75" fill="#88b41c"/>
<circle cx="432.10" cy="386.30" r="1.75" fill="#88b41c"/>
<circle cx="404.70" cy="400.70" r="1.75" fill="#88b41c"/>
<circle cx="423.40" cy="406.80" r="1.75" fill="#88b41c"/>
<circle cx="432.80" cy="403.80" r="1.75" fill="#88b41c"/>
<circle cx="405.30" cy="422.70" r="1.75" fill="#88b41c"/>
<circle cx="316.30" cy="400.00" r="1.75" fill="#8850b0"/>
<circle cx="333.10" cy="402.10" r="1.75" fill="#8850b0"/>
<circle cx="340.50" cy="414.30" r="1.75" fill="#8850b0"/>
<circle cx="321.20" cy="417.20" r="1.75" fill="#8850b0"/>
<circle cx="335.80" cy="423.30" r="1.75" fill="#8850b0"/>
<circle cx="334.80" cy="428.10" r="1.75" fill="#8850b0"/>
<circle cx="321.60" cy="407.30" r="1.75" fill="#48b0c0"/>
<circle cx="322.40" cy="417.90" r="1.75" fill="#48b0c0"/>
<circle cx="366.70" cy="440.60" r="1.75" fill="#48b0c0"/>
<text font-size="9.9" fill="#333" text-anchor="start" textLength="64.40" lengthAdjust="spacingAndGlyphs" stroke="#333" stroke-width="0.1" transform="translate(328.70 510.50)" >PC1 – var expl 0.12</text>
<text font-size="9.9" fill="#333" text-anchor="start" textLength="63.00" lengthAdjust="spacingAndGlyphs" stroke="#333" stroke-width="0.1" transform="translate(255.20 453.80) rotate(-90)" >PC2 – var expl 0.08</text>
<text font-size="7.9" fill="#333" text-anchor="start" textLength="70.00" lengthAdjust="spacingAndGlyphs" stroke="#333" stroke-width="0.12" transform="translate(442.30 403.50)" >Merryweather-Clarke</text>
<circle cx="444.20" cy="412.30" r="1.9" fill="#d65a4e"/>
<text font-size="7.9" fill="#333" text-anchor="start" stroke="#333" stroke-width="0.12" transform="translate(449.60 415.10) scale(0.94 1)" >Late-E/Int-E</text>
<circle cx="444.20" cy="423.23" r="1.9" fill="#88b41c"/>
<text font-size="7.9" fill="#333" text-anchor="start" stroke="#333" stroke-width="0.12" transform="translate(449.60 426.03) scale(0.94 1)" >CFU-E/Pro-E</text>
<circle cx="444.20" cy="434.16" r="1.9" fill="#48b0c0"/>
<text font-size="7.9" fill="#333" text-anchor="start" stroke="#333" stroke-width="0.12" transform="translate(449.60 436.96) scale(0.94 1)" >ProE</text>
<circle cx="444.20" cy="445.09" r="1.9" fill="#8850b0"/>
<text font-size="7.9" fill="#333" text-anchor="start" stroke="#333" stroke-width="0.12" transform="translate(449.60 447.89) scale(0.94 1)" >CFU-E</text>
</svg><div class="frame"></div></body></html>
